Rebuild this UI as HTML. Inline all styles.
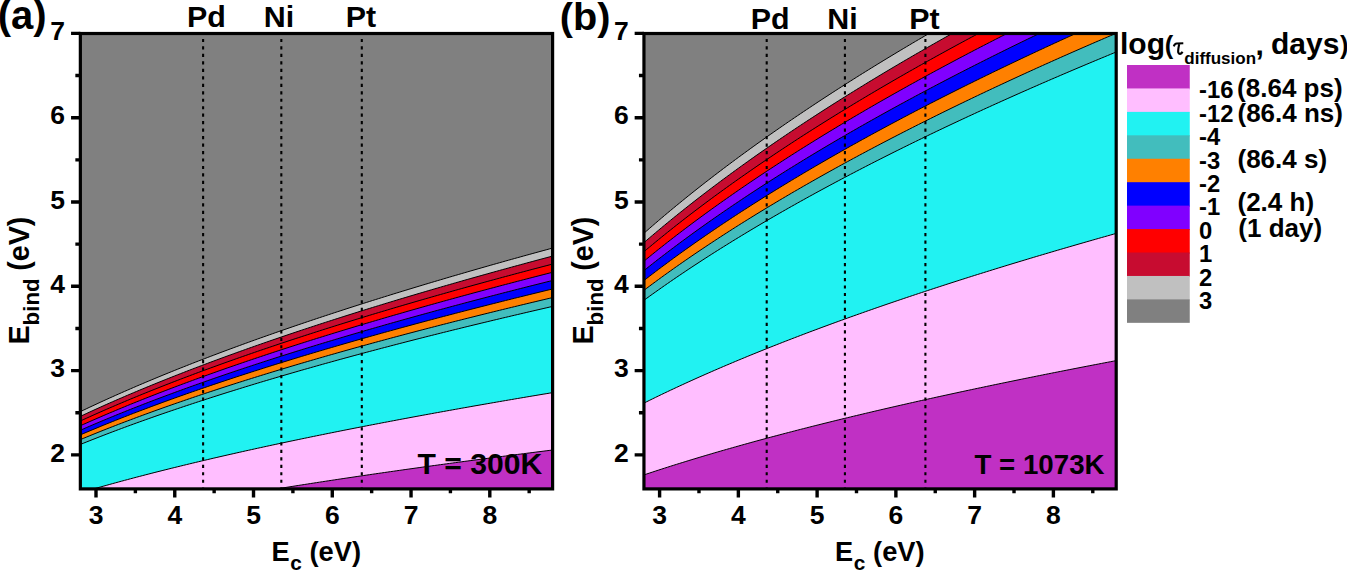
<!DOCTYPE html><html><head><meta charset="utf-8"><style>
html,body{margin:0;padding:0;background:#fff;width:1347px;height:571px;overflow:hidden}
svg{display:block}
text{font-family:"Liberation Sans",sans-serif;font-weight:bold;fill:#000}
.tk{font-size:26.5px}
.pl{font-size:40px}
.el{font-size:31px}
.ax{font-size:29px}
.sb{font-size:21.5px}
.tt{font-size:30px}
.lv{font-size:24px}
.lp{font-size:26px}
</style></head><body>
<svg width="1347" height="571" viewBox="0 0 1347 571">
<clipPath id="ca"><rect x="80.35" y="33.5" width="472.25" height="455.4"/></clipPath>
<g clip-path="url(#ca)">
<rect x="80.35" y="33.5" width="472.25" height="455.4" fill="#808080"/>
<polygon fill="#c0c0c0" points="80.25,411.7 83.2,410.28 86.16,408.88 89.11,407.48 92.06,406.1 95.02,404.72 97.97,403.35 100.92,401.99 103.88,400.64 106.83,399.3 109.78,397.96 112.74,396.63 115.69,395.31 118.64,394 121.6,392.7 124.55,391.4 127.5,390.11 130.46,388.82 133.41,387.55 136.36,386.28 139.32,385.01 142.27,383.76 145.22,382.51 148.18,381.27 151.13,380.03 154.09,378.8 157.04,377.57 159.99,376.36 162.95,375.14 165.9,373.94 168.85,372.74 171.81,371.54 174.76,370.35 177.71,369.17 180.67,367.99 183.62,366.82 186.57,365.65 189.53,364.49 192.48,363.33 195.43,362.18 198.39,361.03 201.34,359.89 204.3,358.75 207.25,357.62 210.2,356.49 213.16,355.37 216.11,354.25 219.06,353.14 222.02,352.03 224.97,350.92 227.92,349.82 230.88,348.73 233.83,347.64 236.78,346.55 239.74,345.47 242.69,344.39 245.64,343.32 248.6,342.25 251.55,341.18 254.5,340.12 257.46,339.06 260.41,338 263.37,336.95 266.32,335.91 269.27,334.86 272.23,333.83 275.18,332.79 278.13,331.76 281.09,330.73 284.04,329.71 286.99,328.69 289.95,327.67 292.9,326.65 295.85,325.64 298.81,324.64 301.76,323.63 304.71,322.63 307.67,321.64 310.62,320.64 313.57,319.65 316.53,318.67 319.48,317.68 322.44,316.7 325.39,315.72 328.34,314.75 331.3,313.78 334.25,312.81 337.2,311.84 340.16,310.88 343.11,309.92 346.06,308.96 349.02,308.01 351.97,307.06 354.92,306.11 357.88,305.17 360.83,304.22 363.78,303.28 366.74,302.35 369.69,301.41 372.64,300.48 375.6,299.55 378.55,298.63 381.5,297.7 384.46,296.78 387.41,295.86 390.37,294.95 393.32,294.03 396.27,293.12 399.23,292.22 402.18,291.31 405.13,290.41 408.09,289.51 411.04,288.61 413.99,287.71 416.95,286.82 419.9,285.93 422.85,285.04 425.81,284.15 428.76,283.27 431.71,282.39 434.67,281.51 437.62,280.63 440.58,279.75 443.53,278.88 446.48,278.01 449.44,277.14 452.39,276.27 455.34,275.41 458.3,274.55 461.25,273.69 464.2,272.83 467.16,271.97 470.11,271.12 473.06,270.27 476.02,269.42 478.97,268.57 481.92,267.73 484.88,266.88 487.83,266.04 490.78,265.2 493.74,264.36 496.69,263.53 499.65,262.69 502.6,261.86 505.55,261.03 508.51,260.2 511.46,259.38 514.41,258.55 517.37,257.73 520.32,256.91 523.27,256.09 526.23,255.27 529.18,254.46 532.13,253.65 535.09,252.83 538.04,252.02 540.99,251.22 543.95,250.41 546.9,249.61 549.85,248.8 552.81,248 554.6,493.9 78.35,493.9"/>
<polygon fill="#c70c30" points="80.25,416.42 83.2,415.04 86.16,413.66 89.11,412.29 92.06,410.94 95.02,409.59 97.97,408.25 100.92,406.91 103.88,405.59 106.83,404.27 109.78,402.96 112.74,401.66 115.69,400.37 118.64,399.08 121.6,397.81 124.55,396.53 127.5,395.27 130.46,394.01 133.41,392.76 136.36,391.52 139.32,390.28 142.27,389.05 145.22,387.83 148.18,386.61 151.13,385.4 154.09,384.19 157.04,382.99 159.99,381.8 162.95,380.61 165.9,379.43 168.85,378.25 171.81,377.08 174.76,375.91 177.71,374.75 180.67,373.6 183.62,372.45 186.57,371.31 189.53,370.17 192.48,369.03 195.43,367.9 198.39,366.78 201.34,365.66 204.3,364.55 207.25,363.44 210.2,362.33 213.16,361.23 216.11,360.14 219.06,359.05 222.02,357.96 224.97,356.88 227.92,355.8 230.88,354.73 233.83,353.66 236.78,352.59 239.74,351.53 242.69,350.48 245.64,349.42 248.6,348.37 251.55,347.33 254.5,346.29 257.46,345.25 260.41,344.22 263.37,343.19 266.32,342.16 269.27,341.14 272.23,340.12 275.18,339.11 278.13,338.1 281.09,337.09 284.04,336.09 286.99,335.09 289.95,334.09 292.9,333.1 295.85,332.11 298.81,331.12 301.76,330.14 304.71,329.16 307.67,328.18 310.62,327.21 313.57,326.24 316.53,325.27 319.48,324.3 322.44,323.34 325.39,322.39 328.34,321.43 331.3,320.48 334.25,319.53 337.2,318.58 340.16,317.64 343.11,316.7 346.06,315.76 349.02,314.83 351.97,313.9 354.92,312.97 357.88,312.04 360.83,311.12 363.78,310.2 366.74,309.28 369.69,308.36 372.64,307.45 375.6,306.54 378.55,305.63 381.5,304.73 384.46,303.82 387.41,302.92 390.37,302.03 393.32,301.13 396.27,300.24 399.23,299.35 402.18,298.46 405.13,297.58 408.09,296.69 411.04,295.81 413.99,294.94 416.95,294.06 419.9,293.19 422.85,292.32 425.81,291.45 428.76,290.58 431.71,289.72 434.67,288.85 437.62,287.99 440.58,287.14 443.53,286.28 446.48,285.43 449.44,284.58 452.39,283.73 455.34,282.88 458.3,282.04 461.25,281.19 464.2,280.35 467.16,279.51 470.11,278.68 473.06,277.84 476.02,277.01 478.97,276.18 481.92,275.35 484.88,274.52 487.83,273.7 490.78,272.87 493.74,272.05 496.69,271.24 499.65,270.42 502.6,269.6 505.55,268.79 508.51,267.98 511.46,267.17 514.41,266.36 517.37,265.55 520.32,264.75 523.27,263.95 526.23,263.15 529.18,262.35 532.13,261.55 535.09,260.76 538.04,259.96 540.99,259.17 543.95,258.38 546.9,257.59 549.85,256.8 552.81,256.02 554.6,493.9 78.35,493.9"/>
<polygon fill="#ff0000" points="80.25,421.06 83.2,419.7 86.16,418.35 89.11,417.02 92.06,415.69 95.02,414.37 97.97,413.05 100.92,411.75 103.88,410.45 106.83,409.16 109.78,407.88 112.74,406.61 115.69,405.34 118.64,404.08 121.6,402.83 124.55,401.59 127.5,400.35 130.46,399.12 133.41,397.89 136.36,396.68 139.32,395.47 142.27,394.26 145.22,393.06 148.18,391.87 151.13,390.68 154.09,389.5 157.04,388.33 159.99,387.16 162.95,386 165.9,384.84 168.85,383.69 171.81,382.54 174.76,381.4 177.71,380.27 180.67,379.13 183.62,378.01 186.57,376.89 189.53,375.77 192.48,374.66 195.43,373.56 198.39,372.46 201.34,371.36 204.3,370.27 207.25,369.19 210.2,368.11 213.16,367.03 216.11,365.96 219.06,364.89 222.02,363.82 224.97,362.76 227.92,361.71 230.88,360.66 233.83,359.61 236.78,358.57 239.74,357.53 242.69,356.5 245.64,355.47 248.6,354.44 251.55,353.42 254.5,352.4 257.46,351.38 260.41,350.37 263.37,349.36 266.32,348.36 269.27,347.36 272.23,346.36 275.18,345.37 278.13,344.38 281.09,343.39 284.04,342.41 286.99,341.43 289.95,340.45 292.9,339.48 295.85,338.51 298.81,337.55 301.76,336.58 304.71,335.62 307.67,334.67 310.62,333.71 313.57,332.76 316.53,331.82 319.48,330.87 322.44,329.93 325.39,328.99 328.34,328.06 331.3,327.13 334.25,326.2 337.2,325.27 340.16,324.35 343.11,323.43 346.06,322.51 349.02,321.59 351.97,320.68 354.92,319.77 357.88,318.86 360.83,317.96 363.78,317.06 366.74,316.16 369.69,315.26 372.64,314.37 375.6,313.48 378.55,312.59 381.5,311.7 384.46,310.82 387.41,309.94 390.37,309.06 393.32,308.18 396.27,307.31 399.23,306.44 402.18,305.57 405.13,304.7 408.09,303.84 411.04,302.98 413.99,302.12 416.95,301.26 419.9,300.4 422.85,299.55 425.81,298.7 428.76,297.85 431.71,297.01 434.67,296.16 437.62,295.32 440.58,294.48 443.53,293.64 446.48,292.81 449.44,291.97 452.39,291.14 455.34,290.31 458.3,289.48 461.25,288.66 464.2,287.84 467.16,287.01 470.11,286.19 473.06,285.38 476.02,284.56 478.97,283.75 481.92,282.94 484.88,282.13 487.83,281.32 490.78,280.51 493.74,279.71 496.69,278.91 499.65,278.11 502.6,277.31 505.55,276.51 508.51,275.72 511.46,274.93 514.41,274.13 517.37,273.35 520.32,272.56 523.27,271.77 526.23,270.99 529.18,270.21 532.13,269.42 535.09,268.65 538.04,267.87 540.99,267.09 543.95,266.32 546.9,265.55 549.85,264.78 552.81,264.01 554.6,493.9 78.35,493.9"/>
<polygon fill="#8000ff" points="80.25,425.79 83.2,424.46 86.16,423.15 89.11,421.84 92.06,420.54 95.02,419.25 97.97,417.97 100.92,416.69 103.88,415.42 106.83,414.16 109.78,412.91 112.74,411.66 115.69,410.43 118.64,409.2 121.6,407.97 124.55,406.75 127.5,405.54 130.46,404.34 133.41,403.14 136.36,401.95 139.32,400.77 142.27,399.59 145.22,398.42 148.18,397.25 151.13,396.09 154.09,394.94 157.04,393.79 159.99,392.65 162.95,391.51 165.9,390.38 168.85,389.25 171.81,388.13 174.76,387.02 177.71,385.91 180.67,384.8 183.62,383.7 186.57,382.61 189.53,381.52 192.48,380.43 195.43,379.35 198.39,378.27 201.34,377.2 204.3,376.14 207.25,375.07 210.2,374.02 213.16,372.96 216.11,371.92 219.06,370.87 222.02,369.83 224.97,368.79 227.92,367.76 230.88,366.74 233.83,365.71 236.78,364.69 239.74,363.68 242.69,362.67 245.64,361.66 248.6,360.65 251.55,359.65 254.5,358.66 257.46,357.66 260.41,356.68 263.37,355.69 266.32,354.71 269.27,353.73 272.23,352.76 275.18,351.78 278.13,350.82 281.09,349.85 284.04,348.89 286.99,347.93 289.95,346.98 292.9,346.03 295.85,345.08 298.81,344.14 301.76,343.19 304.71,342.26 307.67,341.32 310.62,340.39 313.57,339.46 316.53,338.53 319.48,337.61 322.44,336.69 325.39,335.77 328.34,334.86 331.3,333.95 334.25,333.04 337.2,332.13 340.16,331.23 343.11,330.33 346.06,329.43 349.02,328.54 351.97,327.64 354.92,326.75 357.88,325.87 360.83,324.98 363.78,324.1 366.74,323.22 369.69,322.35 372.64,321.47 375.6,320.6 378.55,319.73 381.5,318.87 384.46,318 387.41,317.14 390.37,316.28 393.32,315.42 396.27,314.57 399.23,313.72 402.18,312.87 405.13,312.02 408.09,311.17 411.04,310.33 413.99,309.49 416.95,308.65 419.9,307.81 422.85,306.98 425.81,306.15 428.76,305.32 431.71,304.49 434.67,303.67 437.62,302.84 440.58,302.02 443.53,301.2 446.48,300.38 449.44,299.57 452.39,298.76 455.34,297.95 458.3,297.14 461.25,296.33 464.2,295.52 467.16,294.72 470.11,293.92 473.06,293.12 476.02,292.32 478.97,291.53 481.92,290.73 484.88,289.94 487.83,289.15 490.78,288.36 493.74,287.58 496.69,286.79 499.65,286.01 502.6,285.23 505.55,284.45 508.51,283.67 511.46,282.9 514.41,282.13 517.37,281.35 520.32,280.58 523.27,279.81 526.23,279.05 529.18,278.28 532.13,277.52 535.09,276.76 538.04,276 540.99,275.24 543.95,274.48 546.9,273.73 549.85,272.97 552.81,272.22 554.6,493.9 78.35,493.9"/>
<polygon fill="#0000ff" points="80.25,430.3 83.2,429.01 86.16,427.73 89.11,426.45 92.06,425.18 95.02,423.92 97.97,422.67 100.92,421.42 103.88,420.19 106.83,418.96 109.78,417.73 112.74,416.52 115.69,415.31 118.64,414.11 121.6,412.91 124.55,411.73 127.5,410.54 130.46,409.37 133.41,408.2 136.36,407.04 139.32,405.88 142.27,404.73 145.22,403.59 148.18,402.45 151.13,401.32 154.09,400.19 157.04,399.07 159.99,397.96 162.95,396.85 165.9,395.74 168.85,394.64 171.81,393.55 174.76,392.46 177.71,391.38 180.67,390.3 183.62,389.22 186.57,388.16 189.53,387.09 192.48,386.03 195.43,384.98 198.39,383.93 201.34,382.88 204.3,381.84 207.25,380.8 210.2,379.77 213.16,378.74 216.11,377.72 219.06,376.7 222.02,375.69 224.97,374.68 227.92,373.67 230.88,372.67 233.83,371.67 236.78,370.67 239.74,369.68 242.69,368.69 245.64,367.71 248.6,366.73 251.55,365.75 254.5,364.78 257.46,363.81 260.41,362.85 263.37,361.89 266.32,360.93 269.27,359.97 272.23,359.02 275.18,358.07 278.13,357.13 281.09,356.19 284.04,355.25 286.99,354.32 289.95,353.38 292.9,352.46 295.85,351.53 298.81,350.61 301.76,349.69 304.71,348.77 307.67,347.86 310.62,346.95 313.57,346.05 316.53,345.14 319.48,344.24 322.44,343.34 325.39,342.45 328.34,341.55 331.3,340.66 334.25,339.78 337.2,338.89 340.16,338.01 343.11,337.13 346.06,336.26 349.02,335.38 351.97,334.51 354.92,333.65 357.88,332.78 360.83,331.92 363.78,331.06 366.74,330.2 369.69,329.34 372.64,328.49 375.6,327.64 378.55,326.79 381.5,325.95 384.46,325.1 387.41,324.26 390.37,323.42 393.32,322.59 396.27,321.75 399.23,320.92 402.18,320.09 405.13,319.26 408.09,318.44 411.04,317.62 413.99,316.8 416.95,315.98 419.9,315.16 422.85,314.35 425.81,313.54 428.76,312.73 431.71,311.92 434.67,311.11 437.62,310.31 440.58,309.51 443.53,308.71 446.48,307.91 449.44,307.11 452.39,306.32 455.34,305.53 458.3,304.74 461.25,303.95 464.2,303.17 467.16,302.38 470.11,301.6 473.06,300.82 476.02,300.04 478.97,299.27 481.92,298.49 484.88,297.72 487.83,296.95 490.78,296.18 493.74,295.41 496.69,294.65 499.65,293.88 502.6,293.12 505.55,292.36 508.51,291.6 511.46,290.85 514.41,290.09 517.37,289.34 520.32,288.59 523.27,287.84 526.23,287.09 529.18,286.34 532.13,285.6 535.09,284.85 538.04,284.11 540.99,283.37 543.95,282.63 546.9,281.89 549.85,281.16 552.81,280.43 554.6,493.9 78.35,493.9"/>
<polygon fill="#ff8000" points="80.25,434.91 83.2,433.65 86.16,432.4 89.11,431.15 92.06,429.92 95.02,428.69 97.97,427.47 100.92,426.25 103.88,425.05 106.83,423.85 109.78,422.66 112.74,421.48 115.69,420.3 118.64,419.13 121.6,417.96 124.55,416.81 127.5,415.66 130.46,414.51 133.41,413.37 136.36,412.24 139.32,411.11 142.27,409.99 145.22,408.88 148.18,407.77 151.13,406.67 154.09,405.57 157.04,404.48 159.99,403.39 162.95,402.31 165.9,401.23 168.85,400.16 171.81,399.1 174.76,398.04 177.71,396.98 180.67,395.93 183.62,394.88 186.57,393.84 189.53,392.81 192.48,391.77 195.43,390.75 198.39,389.72 201.34,388.71 204.3,387.69 207.25,386.68 210.2,385.68 213.16,384.67 216.11,383.68 219.06,382.68 222.02,381.7 224.97,380.71 227.92,379.73 230.88,378.75 233.83,377.78 236.78,376.81 239.74,375.84 242.69,374.88 245.64,373.92 248.6,372.97 251.55,372.02 254.5,371.07 257.46,370.13 260.41,369.19 263.37,368.25 266.32,367.32 269.27,366.39 272.23,365.46 275.18,364.54 278.13,363.62 281.09,362.7 284.04,361.79 286.99,360.88 289.95,359.97 292.9,359.07 295.85,358.16 298.81,357.27 301.76,356.37 304.71,355.48 307.67,354.59 310.62,353.7 313.57,352.82 316.53,351.94 319.48,351.06 322.44,350.19 325.39,349.32 328.34,348.45 331.3,347.58 334.25,346.72 337.2,345.85 340.16,345 343.11,344.14 346.06,343.29 349.02,342.44 351.97,341.59 354.92,340.74 357.88,339.9 360.83,339.06 363.78,338.22 366.74,337.39 369.69,336.55 372.64,335.72 375.6,334.89 378.55,334.07 381.5,333.24 384.46,332.42 387.41,331.6 390.37,330.79 393.32,329.97 396.27,329.16 399.23,328.35 402.18,327.54 405.13,326.74 408.09,325.93 411.04,325.13 413.99,324.33 416.95,323.53 419.9,322.74 422.85,321.95 425.81,321.16 428.76,320.37 431.71,319.58 434.67,318.8 437.62,318.01 440.58,317.23 443.53,316.45 446.48,315.68 449.44,314.9 452.39,314.13 455.34,313.36 458.3,312.59 461.25,311.82 464.2,311.06 467.16,310.29 470.11,309.53 473.06,308.77 476.02,308.01 478.97,307.26 481.92,306.5 484.88,305.75 487.83,305 490.78,304.25 493.74,303.5 496.69,302.76 499.65,302.02 502.6,301.27 505.55,300.53 508.51,299.79 511.46,299.06 514.41,298.32 517.37,297.59 520.32,296.86 523.27,296.13 526.23,295.4 529.18,294.67 532.13,293.95 535.09,293.22 538.04,292.5 540.99,291.78 543.95,291.06 546.9,290.34 549.85,289.62 552.81,288.91 554.6,493.9 78.35,493.9"/>
<polygon fill="#42bdbd" points="80.25,439.66 83.2,438.43 86.16,437.21 89.11,436 92.06,434.8 95.02,433.6 97.97,432.41 100.92,431.23 103.88,430.06 106.83,428.89 109.78,427.73 112.74,426.58 115.69,425.43 118.64,424.29 121.6,423.16 124.55,422.03 127.5,420.91 130.46,419.8 133.41,418.69 136.36,417.59 139.32,416.49 142.27,415.4 145.22,414.31 148.18,413.24 151.13,412.16 154.09,411.09 157.04,410.03 159.99,408.97 162.95,407.92 165.9,406.87 168.85,405.83 171.81,404.79 174.76,403.76 177.71,402.73 180.67,401.71 183.62,400.69 186.57,399.68 189.53,398.67 192.48,397.66 195.43,396.66 198.39,395.67 201.34,394.67 204.3,393.69 207.25,392.7 210.2,391.72 213.16,390.75 216.11,389.78 219.06,388.81 222.02,387.85 224.97,386.89 227.92,385.94 230.88,384.98 233.83,384.04 236.78,383.09 239.74,382.15 242.69,381.22 245.64,380.28 248.6,379.36 251.55,378.43 254.5,377.51 257.46,376.59 260.41,375.67 263.37,374.76 266.32,373.85 269.27,372.95 272.23,372.04 275.18,371.15 278.13,370.25 281.09,369.36 284.04,368.47 286.99,367.58 289.95,366.7 292.9,365.82 295.85,364.94 298.81,364.07 301.76,363.2 304.71,362.33 307.67,361.46 310.62,360.6 313.57,359.74 316.53,358.88 319.48,358.03 322.44,357.18 325.39,356.33 328.34,355.48 331.3,354.64 334.25,353.8 337.2,352.96 340.16,352.12 343.11,351.29 346.06,350.46 349.02,349.63 351.97,348.8 354.92,347.98 357.88,347.16 360.83,346.34 363.78,345.53 366.74,344.71 369.69,343.9 372.64,343.09 375.6,342.29 378.55,341.48 381.5,340.68 384.46,339.88 387.41,339.08 390.37,338.29 393.32,337.49 396.27,336.7 399.23,335.91 402.18,335.13 405.13,334.34 408.09,333.56 411.04,332.78 413.99,332 416.95,331.23 419.9,330.45 422.85,329.68 425.81,328.91 428.76,328.14 431.71,327.38 434.67,326.61 437.62,325.85 440.58,325.09 443.53,324.33 446.48,323.58 449.44,322.82 452.39,322.07 455.34,321.32 458.3,320.57 461.25,319.83 464.2,319.08 467.16,318.34 470.11,317.6 473.06,316.86 476.02,316.12 478.97,315.38 481.92,314.65 484.88,313.92 487.83,313.19 490.78,312.46 493.74,311.73 496.69,311 499.65,310.28 502.6,309.56 505.55,308.84 508.51,308.12 511.46,307.4 514.41,306.68 517.37,305.97 520.32,305.26 523.27,304.55 526.23,303.84 529.18,303.13 532.13,302.42 535.09,301.72 538.04,301.01 540.99,300.31 543.95,299.61 546.9,298.91 549.85,298.22 552.81,297.52 554.6,493.9 78.35,493.9"/>
<polygon fill="#21f2f2" points="80.25,444.49 83.2,443.3 86.16,442.12 89.11,440.94 92.06,439.77 95.02,438.61 97.97,437.45 100.92,436.31 103.88,435.16 106.83,434.03 109.78,432.9 112.74,431.78 115.69,430.67 118.64,429.56 121.6,428.46 124.55,427.37 127.5,426.28 130.46,425.19 133.41,424.12 136.36,423.04 139.32,421.98 142.27,420.92 145.22,419.86 148.18,418.82 151.13,417.77 154.09,416.73 157.04,415.7 159.99,414.67 162.95,413.65 165.9,412.63 168.85,411.62 171.81,410.61 174.76,409.61 177.71,408.61 180.67,407.61 183.62,406.62 186.57,405.64 189.53,404.66 192.48,403.68 195.43,402.71 198.39,401.74 201.34,400.78 204.3,399.82 207.25,398.86 210.2,397.91 213.16,396.96 216.11,396.02 219.06,395.08 222.02,394.14 224.97,393.21 227.92,392.28 230.88,391.36 233.83,390.44 236.78,389.52 239.74,388.61 242.69,387.7 245.64,386.79 248.6,385.89 251.55,384.99 254.5,384.09 257.46,383.2 260.41,382.31 263.37,381.42 266.32,380.54 269.27,379.66 272.23,378.78 275.18,377.91 278.13,377.04 281.09,376.17 284.04,375.31 286.99,374.45 289.95,373.59 292.9,372.73 295.85,371.88 298.81,371.03 301.76,370.18 304.71,369.34 307.67,368.5 310.62,367.66 313.57,366.82 316.53,365.99 319.48,365.16 322.44,364.33 325.39,363.51 328.34,362.69 331.3,361.87 334.25,361.05 337.2,360.23 340.16,359.42 343.11,358.61 346.06,357.81 349.02,357 351.97,356.2 354.92,355.4 357.88,354.6 360.83,353.81 363.78,353.01 366.74,352.22 369.69,351.43 372.64,350.65 375.6,349.86 378.55,349.08 381.5,348.3 384.46,347.53 387.41,346.75 390.37,345.98 393.32,345.21 396.27,344.44 399.23,343.67 402.18,342.91 405.13,342.15 408.09,341.39 411.04,340.63 413.99,339.87 416.95,339.12 419.9,338.37 422.85,337.62 425.81,336.87 428.76,336.12 431.71,335.38 434.67,334.64 437.62,333.9 440.58,333.16 443.53,332.42 446.48,331.69 449.44,330.95 452.39,330.22 455.34,329.49 458.3,328.77 461.25,328.04 464.2,327.32 467.16,326.59 470.11,325.87 473.06,325.15 476.02,324.44 478.97,323.72 481.92,323.01 484.88,322.3 487.83,321.59 490.78,320.88 493.74,320.17 496.69,319.47 499.65,318.76 502.6,318.06 505.55,317.36 508.51,316.66 511.46,315.96 514.41,315.27 517.37,314.58 520.32,313.88 523.27,313.19 526.23,312.5 529.18,311.81 532.13,311.13 535.09,310.44 538.04,309.76 540.99,309.08 543.95,308.4 546.9,307.72 549.85,307.04 552.81,306.37 554.6,493.9 78.35,493.9"/>
<polygon fill="#ffbeff" points="80.25,492.82 83.2,491.96 86.16,491.09 89.11,490.24 92.06,489.39 95.02,488.54 97.97,487.7 100.92,486.87 103.88,486.04 106.83,485.22 109.78,484.4 112.74,483.58 115.69,482.77 118.64,481.97 121.6,481.17 124.55,480.37 127.5,479.58 130.46,478.79 133.41,478.01 136.36,477.23 139.32,476.46 142.27,475.69 145.22,474.92 148.18,474.16 151.13,473.4 154.09,472.64 157.04,471.89 159.99,471.15 162.95,470.4 165.9,469.66 168.85,468.93 171.81,468.2 174.76,467.47 177.71,466.74 180.67,466.02 183.62,465.3 186.57,464.58 189.53,463.87 192.48,463.16 195.43,462.46 198.39,461.75 201.34,461.05 204.3,460.36 207.25,459.66 210.2,458.97 213.16,458.28 216.11,457.6 219.06,456.92 222.02,456.24 224.97,455.56 227.92,454.89 230.88,454.22 233.83,453.55 236.78,452.88 239.74,452.22 242.69,451.56 245.64,450.9 248.6,450.25 251.55,449.59 254.5,448.94 257.46,448.29 260.41,447.65 263.37,447.01 266.32,446.36 269.27,445.73 272.23,445.09 275.18,444.46 278.13,443.82 281.09,443.19 284.04,442.57 286.99,441.94 289.95,441.32 292.9,440.7 295.85,440.08 298.81,439.46 301.76,438.85 304.71,438.24 307.67,437.63 310.62,437.02 313.57,436.41 316.53,435.81 319.48,435.21 322.44,434.61 325.39,434.01 328.34,433.41 331.3,432.82 334.25,432.22 337.2,431.63 340.16,431.04 343.11,430.46 346.06,429.87 349.02,429.29 351.97,428.71 354.92,428.13 357.88,427.55 360.83,426.97 363.78,426.4 366.74,425.82 369.69,425.25 372.64,424.68 375.6,424.11 378.55,423.55 381.5,422.98 384.46,422.42 387.41,421.86 390.37,421.3 393.32,420.74 396.27,420.18 399.23,419.62 402.18,419.07 405.13,418.52 408.09,417.97 411.04,417.42 413.99,416.87 416.95,416.32 419.9,415.78 422.85,415.23 425.81,414.69 428.76,414.15 431.71,413.61 434.67,413.07 437.62,412.54 440.58,412 443.53,411.47 446.48,410.94 449.44,410.41 452.39,409.88 455.34,409.35 458.3,408.82 461.25,408.29 464.2,407.77 467.16,407.25 470.11,406.72 473.06,406.2 476.02,405.68 478.97,405.17 481.92,404.65 484.88,404.13 487.83,403.62 490.78,403.11 493.74,402.59 496.69,402.08 499.65,401.57 502.6,401.07 505.55,400.56 508.51,400.05 511.46,399.55 514.41,399.04 517.37,398.54 520.32,398.04 523.27,397.54 526.23,397.04 529.18,396.54 532.13,396.04 535.09,395.55 538.04,395.05 540.99,394.56 543.95,394.07 546.9,393.58 549.85,393.09 552.81,392.6 554.6,493.9 78.35,493.9"/>
<polygon fill="#c030c4" points="80.25,493.9 83.2,493.9 86.16,493.9 89.11,493.9 92.06,493.9 95.02,493.9 97.97,493.9 100.92,493.9 103.88,493.9 106.83,493.9 109.78,493.9 112.74,493.9 115.69,493.9 118.64,493.9 121.6,493.9 124.55,493.9 127.5,493.9 130.46,493.9 133.41,493.9 136.36,493.9 139.32,493.9 142.27,493.9 145.22,493.9 148.18,493.9 151.13,493.9 154.09,493.9 157.04,493.9 159.99,493.9 162.95,493.9 165.9,493.9 168.85,493.9 171.81,493.9 174.76,493.9 177.71,493.9 180.67,493.9 183.62,493.9 186.57,493.9 189.53,493.9 192.48,493.9 195.43,493.9 198.39,493.9 201.34,493.9 204.3,493.9 207.25,493.9 210.2,493.9 213.16,493.9 216.11,493.9 219.06,493.9 222.02,493.9 224.97,493.9 227.92,493.9 230.88,493.9 233.83,493.9 236.78,493.9 239.74,493.9 242.69,493.9 245.64,493.9 248.6,493.52 251.55,493.03 254.5,492.54 257.46,492.05 260.41,491.56 263.37,491.08 266.32,490.59 269.27,490.11 272.23,489.63 275.18,489.15 278.13,488.68 281.09,488.2 284.04,487.73 286.99,487.26 289.95,486.79 292.9,486.32 295.85,485.85 298.81,485.39 301.76,484.92 304.71,484.46 307.67,484 310.62,483.54 313.57,483.08 316.53,482.63 319.48,482.17 322.44,481.72 325.39,481.27 328.34,480.82 331.3,480.37 334.25,479.92 337.2,479.48 340.16,479.03 343.11,478.59 346.06,478.15 349.02,477.71 351.97,477.27 354.92,476.83 357.88,476.39 360.83,475.96 363.78,475.52 366.74,475.09 369.69,474.66 372.64,474.23 375.6,473.8 378.55,473.37 381.5,472.94 384.46,472.52 387.41,472.1 390.37,471.67 393.32,471.25 396.27,470.83 399.23,470.41 402.18,469.99 405.13,469.57 408.09,469.16 411.04,468.74 413.99,468.33 416.95,467.92 419.9,467.5 422.85,467.09 425.81,466.68 428.76,466.28 431.71,465.87 434.67,465.46 437.62,465.06 440.58,464.65 443.53,464.25 446.48,463.85 449.44,463.45 452.39,463.05 455.34,462.65 458.3,462.25 461.25,461.85 464.2,461.45 467.16,461.06 470.11,460.67 473.06,460.27 476.02,459.88 478.97,459.49 481.92,459.1 484.88,458.71 487.83,458.32 490.78,457.93 493.74,457.54 496.69,457.16 499.65,456.77 502.6,456.39 505.55,456.01 508.51,455.62 511.46,455.24 514.41,454.86 517.37,454.48 520.32,454.1 523.27,453.72 526.23,453.35 529.18,452.97 532.13,452.59 535.09,452.22 538.04,451.84 540.99,451.47 543.95,451.1 546.9,450.73 549.85,450.36 552.81,449.99 554.6,493.9 78.35,493.9"/>
<g fill="none" stroke="#000" stroke-width="1"><polyline points="80.25,411.7 83.2,410.28 86.16,408.88 89.11,407.48 92.06,406.1 95.02,404.72 97.97,403.35 100.92,401.99 103.88,400.64 106.83,399.3 109.78,397.96 112.74,396.63 115.69,395.31 118.64,394 121.6,392.7 124.55,391.4 127.5,390.11 130.46,388.82 133.41,387.55 136.36,386.28 139.32,385.01 142.27,383.76 145.22,382.51 148.18,381.27 151.13,380.03 154.09,378.8 157.04,377.57 159.99,376.36 162.95,375.14 165.9,373.94 168.85,372.74 171.81,371.54 174.76,370.35 177.71,369.17 180.67,367.99 183.62,366.82 186.57,365.65 189.53,364.49 192.48,363.33 195.43,362.18 198.39,361.03 201.34,359.89 204.3,358.75 207.25,357.62 210.2,356.49 213.16,355.37 216.11,354.25 219.06,353.14 222.02,352.03 224.97,350.92 227.92,349.82 230.88,348.73 233.83,347.64 236.78,346.55 239.74,345.47 242.69,344.39 245.64,343.32 248.6,342.25 251.55,341.18 254.5,340.12 257.46,339.06 260.41,338 263.37,336.95 266.32,335.91 269.27,334.86 272.23,333.83 275.18,332.79 278.13,331.76 281.09,330.73 284.04,329.71 286.99,328.69 289.95,327.67 292.9,326.65 295.85,325.64 298.81,324.64 301.76,323.63 304.71,322.63 307.67,321.64 310.62,320.64 313.57,319.65 316.53,318.67 319.48,317.68 322.44,316.7 325.39,315.72 328.34,314.75 331.3,313.78 334.25,312.81 337.2,311.84 340.16,310.88 343.11,309.92 346.06,308.96 349.02,308.01 351.97,307.06 354.92,306.11 357.88,305.17 360.83,304.22 363.78,303.28 366.74,302.35 369.69,301.41 372.64,300.48 375.6,299.55 378.55,298.63 381.5,297.7 384.46,296.78 387.41,295.86 390.37,294.95 393.32,294.03 396.27,293.12 399.23,292.22 402.18,291.31 405.13,290.41 408.09,289.51 411.04,288.61 413.99,287.71 416.95,286.82 419.9,285.93 422.85,285.04 425.81,284.15 428.76,283.27 431.71,282.39 434.67,281.51 437.62,280.63 440.58,279.75 443.53,278.88 446.48,278.01 449.44,277.14 452.39,276.27 455.34,275.41 458.3,274.55 461.25,273.69 464.2,272.83 467.16,271.97 470.11,271.12 473.06,270.27 476.02,269.42 478.97,268.57 481.92,267.73 484.88,266.88 487.83,266.04 490.78,265.2 493.74,264.36 496.69,263.53 499.65,262.69 502.6,261.86 505.55,261.03 508.51,260.2 511.46,259.38 514.41,258.55 517.37,257.73 520.32,256.91 523.27,256.09 526.23,255.27 529.18,254.46 532.13,253.65 535.09,252.83 538.04,252.02 540.99,251.22 543.95,250.41 546.9,249.61 549.85,248.8 552.81,248"/><polyline points="80.25,416.42 83.2,415.04 86.16,413.66 89.11,412.29 92.06,410.94 95.02,409.59 97.97,408.25 100.92,406.91 103.88,405.59 106.83,404.27 109.78,402.96 112.74,401.66 115.69,400.37 118.64,399.08 121.6,397.81 124.55,396.53 127.5,395.27 130.46,394.01 133.41,392.76 136.36,391.52 139.32,390.28 142.27,389.05 145.22,387.83 148.18,386.61 151.13,385.4 154.09,384.19 157.04,382.99 159.99,381.8 162.95,380.61 165.9,379.43 168.85,378.25 171.81,377.08 174.76,375.91 177.71,374.75 180.67,373.6 183.62,372.45 186.57,371.31 189.53,370.17 192.48,369.03 195.43,367.9 198.39,366.78 201.34,365.66 204.3,364.55 207.25,363.44 210.2,362.33 213.16,361.23 216.11,360.14 219.06,359.05 222.02,357.96 224.97,356.88 227.92,355.8 230.88,354.73 233.83,353.66 236.78,352.59 239.74,351.53 242.69,350.48 245.64,349.42 248.6,348.37 251.55,347.33 254.5,346.29 257.46,345.25 260.41,344.22 263.37,343.19 266.32,342.16 269.27,341.14 272.23,340.12 275.18,339.11 278.13,338.1 281.09,337.09 284.04,336.09 286.99,335.09 289.95,334.09 292.9,333.1 295.85,332.11 298.81,331.12 301.76,330.14 304.71,329.16 307.67,328.18 310.62,327.21 313.57,326.24 316.53,325.27 319.48,324.3 322.44,323.34 325.39,322.39 328.34,321.43 331.3,320.48 334.25,319.53 337.2,318.58 340.16,317.64 343.11,316.7 346.06,315.76 349.02,314.83 351.97,313.9 354.92,312.97 357.88,312.04 360.83,311.12 363.78,310.2 366.74,309.28 369.69,308.36 372.64,307.45 375.6,306.54 378.55,305.63 381.5,304.73 384.46,303.82 387.41,302.92 390.37,302.03 393.32,301.13 396.27,300.24 399.23,299.35 402.18,298.46 405.13,297.58 408.09,296.69 411.04,295.81 413.99,294.94 416.95,294.06 419.9,293.19 422.85,292.32 425.81,291.45 428.76,290.58 431.71,289.72 434.67,288.85 437.62,287.99 440.58,287.14 443.53,286.28 446.48,285.43 449.44,284.58 452.39,283.73 455.34,282.88 458.3,282.04 461.25,281.19 464.2,280.35 467.16,279.51 470.11,278.68 473.06,277.84 476.02,277.01 478.97,276.18 481.92,275.35 484.88,274.52 487.83,273.7 490.78,272.87 493.74,272.05 496.69,271.24 499.65,270.42 502.6,269.6 505.55,268.79 508.51,267.98 511.46,267.17 514.41,266.36 517.37,265.55 520.32,264.75 523.27,263.95 526.23,263.15 529.18,262.35 532.13,261.55 535.09,260.76 538.04,259.96 540.99,259.17 543.95,258.38 546.9,257.59 549.85,256.8 552.81,256.02"/><polyline points="80.25,421.06 83.2,419.7 86.16,418.35 89.11,417.02 92.06,415.69 95.02,414.37 97.97,413.05 100.92,411.75 103.88,410.45 106.83,409.16 109.78,407.88 112.74,406.61 115.69,405.34 118.64,404.08 121.6,402.83 124.55,401.59 127.5,400.35 130.46,399.12 133.41,397.89 136.36,396.68 139.32,395.47 142.27,394.26 145.22,393.06 148.18,391.87 151.13,390.68 154.09,389.5 157.04,388.33 159.99,387.16 162.95,386 165.9,384.84 168.85,383.69 171.81,382.54 174.76,381.4 177.71,380.27 180.67,379.13 183.62,378.01 186.57,376.89 189.53,375.77 192.48,374.66 195.43,373.56 198.39,372.46 201.34,371.36 204.3,370.27 207.25,369.19 210.2,368.11 213.16,367.03 216.11,365.96 219.06,364.89 222.02,363.82 224.97,362.76 227.92,361.71 230.88,360.66 233.83,359.61 236.78,358.57 239.74,357.53 242.69,356.5 245.64,355.47 248.6,354.44 251.55,353.42 254.5,352.4 257.46,351.38 260.41,350.37 263.37,349.36 266.32,348.36 269.27,347.36 272.23,346.36 275.18,345.37 278.13,344.38 281.09,343.39 284.04,342.41 286.99,341.43 289.95,340.45 292.9,339.48 295.85,338.51 298.81,337.55 301.76,336.58 304.71,335.62 307.67,334.67 310.62,333.71 313.57,332.76 316.53,331.82 319.48,330.87 322.44,329.93 325.39,328.99 328.34,328.06 331.3,327.13 334.25,326.2 337.2,325.27 340.16,324.35 343.11,323.43 346.06,322.51 349.02,321.59 351.97,320.68 354.92,319.77 357.88,318.86 360.83,317.96 363.78,317.06 366.74,316.16 369.69,315.26 372.64,314.37 375.6,313.48 378.55,312.59 381.5,311.7 384.46,310.82 387.41,309.94 390.37,309.06 393.32,308.18 396.27,307.31 399.23,306.44 402.18,305.57 405.13,304.7 408.09,303.84 411.04,302.98 413.99,302.12 416.95,301.26 419.9,300.4 422.85,299.55 425.81,298.7 428.76,297.85 431.71,297.01 434.67,296.16 437.62,295.32 440.58,294.48 443.53,293.64 446.48,292.81 449.44,291.97 452.39,291.14 455.34,290.31 458.3,289.48 461.25,288.66 464.2,287.84 467.16,287.01 470.11,286.19 473.06,285.38 476.02,284.56 478.97,283.75 481.92,282.94 484.88,282.13 487.83,281.32 490.78,280.51 493.74,279.71 496.69,278.91 499.65,278.11 502.6,277.31 505.55,276.51 508.51,275.72 511.46,274.93 514.41,274.13 517.37,273.35 520.32,272.56 523.27,271.77 526.23,270.99 529.18,270.21 532.13,269.42 535.09,268.65 538.04,267.87 540.99,267.09 543.95,266.32 546.9,265.55 549.85,264.78 552.81,264.01"/><polyline points="80.25,425.79 83.2,424.46 86.16,423.15 89.11,421.84 92.06,420.54 95.02,419.25 97.97,417.97 100.92,416.69 103.88,415.42 106.83,414.16 109.78,412.91 112.74,411.66 115.69,410.43 118.64,409.2 121.6,407.97 124.55,406.75 127.5,405.54 130.46,404.34 133.41,403.14 136.36,401.95 139.32,400.77 142.27,399.59 145.22,398.42 148.18,397.25 151.13,396.09 154.09,394.94 157.04,393.79 159.99,392.65 162.95,391.51 165.9,390.38 168.85,389.25 171.81,388.13 174.76,387.02 177.71,385.91 180.67,384.8 183.62,383.7 186.57,382.61 189.53,381.52 192.48,380.43 195.43,379.35 198.39,378.27 201.34,377.2 204.3,376.14 207.25,375.07 210.2,374.02 213.16,372.96 216.11,371.92 219.06,370.87 222.02,369.83 224.97,368.79 227.92,367.76 230.88,366.74 233.83,365.71 236.78,364.69 239.74,363.68 242.69,362.67 245.64,361.66 248.6,360.65 251.55,359.65 254.5,358.66 257.46,357.66 260.41,356.68 263.37,355.69 266.32,354.71 269.27,353.73 272.23,352.76 275.18,351.78 278.13,350.82 281.09,349.85 284.04,348.89 286.99,347.93 289.95,346.98 292.9,346.03 295.85,345.08 298.81,344.14 301.76,343.19 304.71,342.26 307.67,341.32 310.62,340.39 313.57,339.46 316.53,338.53 319.48,337.61 322.44,336.69 325.39,335.77 328.34,334.86 331.3,333.95 334.25,333.04 337.2,332.13 340.16,331.23 343.11,330.33 346.06,329.43 349.02,328.54 351.97,327.64 354.92,326.75 357.88,325.87 360.83,324.98 363.78,324.1 366.74,323.22 369.69,322.35 372.64,321.47 375.6,320.6 378.55,319.73 381.5,318.87 384.46,318 387.41,317.14 390.37,316.28 393.32,315.42 396.27,314.57 399.23,313.72 402.18,312.87 405.13,312.02 408.09,311.17 411.04,310.33 413.99,309.49 416.95,308.65 419.9,307.81 422.85,306.98 425.81,306.15 428.76,305.32 431.71,304.49 434.67,303.67 437.62,302.84 440.58,302.02 443.53,301.2 446.48,300.38 449.44,299.57 452.39,298.76 455.34,297.95 458.3,297.14 461.25,296.33 464.2,295.52 467.16,294.72 470.11,293.92 473.06,293.12 476.02,292.32 478.97,291.53 481.92,290.73 484.88,289.94 487.83,289.15 490.78,288.36 493.74,287.58 496.69,286.79 499.65,286.01 502.6,285.23 505.55,284.45 508.51,283.67 511.46,282.9 514.41,282.13 517.37,281.35 520.32,280.58 523.27,279.81 526.23,279.05 529.18,278.28 532.13,277.52 535.09,276.76 538.04,276 540.99,275.24 543.95,274.48 546.9,273.73 549.85,272.97 552.81,272.22"/><polyline points="80.25,430.3 83.2,429.01 86.16,427.73 89.11,426.45 92.06,425.18 95.02,423.92 97.97,422.67 100.92,421.42 103.88,420.19 106.83,418.96 109.78,417.73 112.74,416.52 115.69,415.31 118.64,414.11 121.6,412.91 124.55,411.73 127.5,410.54 130.46,409.37 133.41,408.2 136.36,407.04 139.32,405.88 142.27,404.73 145.22,403.59 148.18,402.45 151.13,401.32 154.09,400.19 157.04,399.07 159.99,397.96 162.95,396.85 165.9,395.74 168.85,394.64 171.81,393.55 174.76,392.46 177.71,391.38 180.67,390.3 183.62,389.22 186.57,388.16 189.53,387.09 192.48,386.03 195.43,384.98 198.39,383.93 201.34,382.88 204.3,381.84 207.25,380.8 210.2,379.77 213.16,378.74 216.11,377.72 219.06,376.7 222.02,375.69 224.97,374.68 227.92,373.67 230.88,372.67 233.83,371.67 236.78,370.67 239.74,369.68 242.69,368.69 245.64,367.71 248.6,366.73 251.55,365.75 254.5,364.78 257.46,363.81 260.41,362.85 263.37,361.89 266.32,360.93 269.27,359.97 272.23,359.02 275.18,358.07 278.13,357.13 281.09,356.19 284.04,355.25 286.99,354.32 289.95,353.38 292.9,352.46 295.85,351.53 298.81,350.61 301.76,349.69 304.71,348.77 307.67,347.86 310.62,346.95 313.57,346.05 316.53,345.14 319.48,344.24 322.44,343.34 325.39,342.45 328.34,341.55 331.3,340.66 334.25,339.78 337.2,338.89 340.16,338.01 343.11,337.13 346.06,336.26 349.02,335.38 351.97,334.51 354.92,333.65 357.88,332.78 360.83,331.92 363.78,331.06 366.74,330.2 369.69,329.34 372.64,328.49 375.6,327.64 378.55,326.79 381.5,325.95 384.46,325.1 387.41,324.26 390.37,323.42 393.32,322.59 396.27,321.75 399.23,320.92 402.18,320.09 405.13,319.26 408.09,318.44 411.04,317.62 413.99,316.8 416.95,315.98 419.9,315.16 422.85,314.35 425.81,313.54 428.76,312.73 431.71,311.92 434.67,311.11 437.62,310.31 440.58,309.51 443.53,308.71 446.48,307.91 449.44,307.11 452.39,306.32 455.34,305.53 458.3,304.74 461.25,303.95 464.2,303.17 467.16,302.38 470.11,301.6 473.06,300.82 476.02,300.04 478.97,299.27 481.92,298.49 484.88,297.72 487.83,296.95 490.78,296.18 493.74,295.41 496.69,294.65 499.65,293.88 502.6,293.12 505.55,292.36 508.51,291.6 511.46,290.85 514.41,290.09 517.37,289.34 520.32,288.59 523.27,287.84 526.23,287.09 529.18,286.34 532.13,285.6 535.09,284.85 538.04,284.11 540.99,283.37 543.95,282.63 546.9,281.89 549.85,281.16 552.81,280.43"/><polyline points="80.25,434.91 83.2,433.65 86.16,432.4 89.11,431.15 92.06,429.92 95.02,428.69 97.97,427.47 100.92,426.25 103.88,425.05 106.83,423.85 109.78,422.66 112.74,421.48 115.69,420.3 118.64,419.13 121.6,417.96 124.55,416.81 127.5,415.66 130.46,414.51 133.41,413.37 136.36,412.24 139.32,411.11 142.27,409.99 145.22,408.88 148.18,407.77 151.13,406.67 154.09,405.57 157.04,404.48 159.99,403.39 162.95,402.31 165.9,401.23 168.85,400.16 171.81,399.1 174.76,398.04 177.71,396.98 180.67,395.93 183.62,394.88 186.57,393.84 189.53,392.81 192.48,391.77 195.43,390.75 198.39,389.72 201.34,388.71 204.3,387.69 207.25,386.68 210.2,385.68 213.16,384.67 216.11,383.68 219.06,382.68 222.02,381.7 224.97,380.71 227.92,379.73 230.88,378.75 233.83,377.78 236.78,376.81 239.74,375.84 242.69,374.88 245.64,373.92 248.6,372.97 251.55,372.02 254.5,371.07 257.46,370.13 260.41,369.19 263.37,368.25 266.32,367.32 269.27,366.39 272.23,365.46 275.18,364.54 278.13,363.62 281.09,362.7 284.04,361.79 286.99,360.88 289.95,359.97 292.9,359.07 295.85,358.16 298.81,357.27 301.76,356.37 304.71,355.48 307.67,354.59 310.62,353.7 313.57,352.82 316.53,351.94 319.48,351.06 322.44,350.19 325.39,349.32 328.34,348.45 331.3,347.58 334.25,346.72 337.2,345.85 340.16,345 343.11,344.14 346.06,343.29 349.02,342.44 351.97,341.59 354.92,340.74 357.88,339.9 360.83,339.06 363.78,338.22 366.74,337.39 369.69,336.55 372.64,335.72 375.6,334.89 378.55,334.07 381.5,333.24 384.46,332.42 387.41,331.6 390.37,330.79 393.32,329.97 396.27,329.16 399.23,328.35 402.18,327.54 405.13,326.74 408.09,325.93 411.04,325.13 413.99,324.33 416.95,323.53 419.9,322.74 422.85,321.95 425.81,321.16 428.76,320.37 431.71,319.58 434.67,318.8 437.62,318.01 440.58,317.23 443.53,316.45 446.48,315.68 449.44,314.9 452.39,314.13 455.34,313.36 458.3,312.59 461.25,311.82 464.2,311.06 467.16,310.29 470.11,309.53 473.06,308.77 476.02,308.01 478.97,307.26 481.92,306.5 484.88,305.75 487.83,305 490.78,304.25 493.74,303.5 496.69,302.76 499.65,302.02 502.6,301.27 505.55,300.53 508.51,299.79 511.46,299.06 514.41,298.32 517.37,297.59 520.32,296.86 523.27,296.13 526.23,295.4 529.18,294.67 532.13,293.95 535.09,293.22 538.04,292.5 540.99,291.78 543.95,291.06 546.9,290.34 549.85,289.62 552.81,288.91"/><polyline points="80.25,439.66 83.2,438.43 86.16,437.21 89.11,436 92.06,434.8 95.02,433.6 97.97,432.41 100.92,431.23 103.88,430.06 106.83,428.89 109.78,427.73 112.74,426.58 115.69,425.43 118.64,424.29 121.6,423.16 124.55,422.03 127.5,420.91 130.46,419.8 133.41,418.69 136.36,417.59 139.32,416.49 142.27,415.4 145.22,414.31 148.18,413.24 151.13,412.16 154.09,411.09 157.04,410.03 159.99,408.97 162.95,407.92 165.9,406.87 168.85,405.83 171.81,404.79 174.76,403.76 177.71,402.73 180.67,401.71 183.62,400.69 186.57,399.68 189.53,398.67 192.48,397.66 195.43,396.66 198.39,395.67 201.34,394.67 204.3,393.69 207.25,392.7 210.2,391.72 213.16,390.75 216.11,389.78 219.06,388.81 222.02,387.85 224.97,386.89 227.92,385.94 230.88,384.98 233.83,384.04 236.78,383.09 239.74,382.15 242.69,381.22 245.64,380.28 248.6,379.36 251.55,378.43 254.5,377.51 257.46,376.59 260.41,375.67 263.37,374.76 266.32,373.85 269.27,372.95 272.23,372.04 275.18,371.15 278.13,370.25 281.09,369.36 284.04,368.47 286.99,367.58 289.95,366.7 292.9,365.82 295.85,364.94 298.81,364.07 301.76,363.2 304.71,362.33 307.67,361.46 310.62,360.6 313.57,359.74 316.53,358.88 319.48,358.03 322.44,357.18 325.39,356.33 328.34,355.48 331.3,354.64 334.25,353.8 337.2,352.96 340.16,352.12 343.11,351.29 346.06,350.46 349.02,349.63 351.97,348.8 354.92,347.98 357.88,347.16 360.83,346.34 363.78,345.53 366.74,344.71 369.69,343.9 372.64,343.09 375.6,342.29 378.55,341.48 381.5,340.68 384.46,339.88 387.41,339.08 390.37,338.29 393.32,337.49 396.27,336.7 399.23,335.91 402.18,335.13 405.13,334.34 408.09,333.56 411.04,332.78 413.99,332 416.95,331.23 419.9,330.45 422.85,329.68 425.81,328.91 428.76,328.14 431.71,327.38 434.67,326.61 437.62,325.85 440.58,325.09 443.53,324.33 446.48,323.58 449.44,322.82 452.39,322.07 455.34,321.32 458.3,320.57 461.25,319.83 464.2,319.08 467.16,318.34 470.11,317.6 473.06,316.86 476.02,316.12 478.97,315.38 481.92,314.65 484.88,313.92 487.83,313.19 490.78,312.46 493.74,311.73 496.69,311 499.65,310.28 502.6,309.56 505.55,308.84 508.51,308.12 511.46,307.4 514.41,306.68 517.37,305.97 520.32,305.26 523.27,304.55 526.23,303.84 529.18,303.13 532.13,302.42 535.09,301.72 538.04,301.01 540.99,300.31 543.95,299.61 546.9,298.91 549.85,298.22 552.81,297.52"/><polyline points="80.25,444.49 83.2,443.3 86.16,442.12 89.11,440.94 92.06,439.77 95.02,438.61 97.97,437.45 100.92,436.31 103.88,435.16 106.83,434.03 109.78,432.9 112.74,431.78 115.69,430.67 118.64,429.56 121.6,428.46 124.55,427.37 127.5,426.28 130.46,425.19 133.41,424.12 136.36,423.04 139.32,421.98 142.27,420.92 145.22,419.86 148.18,418.82 151.13,417.77 154.09,416.73 157.04,415.7 159.99,414.67 162.95,413.65 165.9,412.63 168.85,411.62 171.81,410.61 174.76,409.61 177.71,408.61 180.67,407.61 183.62,406.62 186.57,405.64 189.53,404.66 192.48,403.68 195.43,402.71 198.39,401.74 201.34,400.78 204.3,399.82 207.25,398.86 210.2,397.91 213.16,396.96 216.11,396.02 219.06,395.08 222.02,394.14 224.97,393.21 227.92,392.28 230.88,391.36 233.83,390.44 236.78,389.52 239.74,388.61 242.69,387.7 245.64,386.79 248.6,385.89 251.55,384.99 254.5,384.09 257.46,383.2 260.41,382.31 263.37,381.42 266.32,380.54 269.27,379.66 272.23,378.78 275.18,377.91 278.13,377.04 281.09,376.17 284.04,375.31 286.99,374.45 289.95,373.59 292.9,372.73 295.85,371.88 298.81,371.03 301.76,370.18 304.71,369.34 307.67,368.5 310.62,367.66 313.57,366.82 316.53,365.99 319.48,365.16 322.44,364.33 325.39,363.51 328.34,362.69 331.3,361.87 334.25,361.05 337.2,360.23 340.16,359.42 343.11,358.61 346.06,357.81 349.02,357 351.97,356.2 354.92,355.4 357.88,354.6 360.83,353.81 363.78,353.01 366.74,352.22 369.69,351.43 372.64,350.65 375.6,349.86 378.55,349.08 381.5,348.3 384.46,347.53 387.41,346.75 390.37,345.98 393.32,345.21 396.27,344.44 399.23,343.67 402.18,342.91 405.13,342.15 408.09,341.39 411.04,340.63 413.99,339.87 416.95,339.12 419.9,338.37 422.85,337.62 425.81,336.87 428.76,336.12 431.71,335.38 434.67,334.64 437.62,333.9 440.58,333.16 443.53,332.42 446.48,331.69 449.44,330.95 452.39,330.22 455.34,329.49 458.3,328.77 461.25,328.04 464.2,327.32 467.16,326.59 470.11,325.87 473.06,325.15 476.02,324.44 478.97,323.72 481.92,323.01 484.88,322.3 487.83,321.59 490.78,320.88 493.74,320.17 496.69,319.47 499.65,318.76 502.6,318.06 505.55,317.36 508.51,316.66 511.46,315.96 514.41,315.27 517.37,314.58 520.32,313.88 523.27,313.19 526.23,312.5 529.18,311.81 532.13,311.13 535.09,310.44 538.04,309.76 540.99,309.08 543.95,308.4 546.9,307.72 549.85,307.04 552.81,306.37"/><polyline points="80.25,492.82 83.2,491.96 86.16,491.09 89.11,490.24 92.06,489.39 95.02,488.54 97.97,487.7 100.92,486.87 103.88,486.04 106.83,485.22 109.78,484.4 112.74,483.58 115.69,482.77 118.64,481.97 121.6,481.17 124.55,480.37 127.5,479.58 130.46,478.79 133.41,478.01 136.36,477.23 139.32,476.46 142.27,475.69 145.22,474.92 148.18,474.16 151.13,473.4 154.09,472.64 157.04,471.89 159.99,471.15 162.95,470.4 165.9,469.66 168.85,468.93 171.81,468.2 174.76,467.47 177.71,466.74 180.67,466.02 183.62,465.3 186.57,464.58 189.53,463.87 192.48,463.16 195.43,462.46 198.39,461.75 201.34,461.05 204.3,460.36 207.25,459.66 210.2,458.97 213.16,458.28 216.11,457.6 219.06,456.92 222.02,456.24 224.97,455.56 227.92,454.89 230.88,454.22 233.83,453.55 236.78,452.88 239.74,452.22 242.69,451.56 245.64,450.9 248.6,450.25 251.55,449.59 254.5,448.94 257.46,448.29 260.41,447.65 263.37,447.01 266.32,446.36 269.27,445.73 272.23,445.09 275.18,444.46 278.13,443.82 281.09,443.19 284.04,442.57 286.99,441.94 289.95,441.32 292.9,440.7 295.85,440.08 298.81,439.46 301.76,438.85 304.71,438.24 307.67,437.63 310.62,437.02 313.57,436.41 316.53,435.81 319.48,435.21 322.44,434.61 325.39,434.01 328.34,433.41 331.3,432.82 334.25,432.22 337.2,431.63 340.16,431.04 343.11,430.46 346.06,429.87 349.02,429.29 351.97,428.71 354.92,428.13 357.88,427.55 360.83,426.97 363.78,426.4 366.74,425.82 369.69,425.25 372.64,424.68 375.6,424.11 378.55,423.55 381.5,422.98 384.46,422.42 387.41,421.86 390.37,421.3 393.32,420.74 396.27,420.18 399.23,419.62 402.18,419.07 405.13,418.52 408.09,417.97 411.04,417.42 413.99,416.87 416.95,416.32 419.9,415.78 422.85,415.23 425.81,414.69 428.76,414.15 431.71,413.61 434.67,413.07 437.62,412.54 440.58,412 443.53,411.47 446.48,410.94 449.44,410.41 452.39,409.88 455.34,409.35 458.3,408.82 461.25,408.29 464.2,407.77 467.16,407.25 470.11,406.72 473.06,406.2 476.02,405.68 478.97,405.17 481.92,404.65 484.88,404.13 487.83,403.62 490.78,403.11 493.74,402.59 496.69,402.08 499.65,401.57 502.6,401.07 505.55,400.56 508.51,400.05 511.46,399.55 514.41,399.04 517.37,398.54 520.32,398.04 523.27,397.54 526.23,397.04 529.18,396.54 532.13,396.04 535.09,395.55 538.04,395.05 540.99,394.56 543.95,394.07 546.9,393.58 549.85,393.09 552.81,392.6"/><polyline points="80.25,493.9 83.2,493.9 86.16,493.9 89.11,493.9 92.06,493.9 95.02,493.9 97.97,493.9 100.92,493.9 103.88,493.9 106.83,493.9 109.78,493.9 112.74,493.9 115.69,493.9 118.64,493.9 121.6,493.9 124.55,493.9 127.5,493.9 130.46,493.9 133.41,493.9 136.36,493.9 139.32,493.9 142.27,493.9 145.22,493.9 148.18,493.9 151.13,493.9 154.09,493.9 157.04,493.9 159.99,493.9 162.95,493.9 165.9,493.9 168.85,493.9 171.81,493.9 174.76,493.9 177.71,493.9 180.67,493.9 183.62,493.9 186.57,493.9 189.53,493.9 192.48,493.9 195.43,493.9 198.39,493.9 201.34,493.9 204.3,493.9 207.25,493.9 210.2,493.9 213.16,493.9 216.11,493.9 219.06,493.9 222.02,493.9 224.97,493.9 227.92,493.9 230.88,493.9 233.83,493.9 236.78,493.9 239.74,493.9 242.69,493.9 245.64,493.9 248.6,493.52 251.55,493.03 254.5,492.54 257.46,492.05 260.41,491.56 263.37,491.08 266.32,490.59 269.27,490.11 272.23,489.63 275.18,489.15 278.13,488.68 281.09,488.2 284.04,487.73 286.99,487.26 289.95,486.79 292.9,486.32 295.85,485.85 298.81,485.39 301.76,484.92 304.71,484.46 307.67,484 310.62,483.54 313.57,483.08 316.53,482.63 319.48,482.17 322.44,481.72 325.39,481.27 328.34,480.82 331.3,480.37 334.25,479.92 337.2,479.48 340.16,479.03 343.11,478.59 346.06,478.15 349.02,477.71 351.97,477.27 354.92,476.83 357.88,476.39 360.83,475.96 363.78,475.52 366.74,475.09 369.69,474.66 372.64,474.23 375.6,473.8 378.55,473.37 381.5,472.94 384.46,472.52 387.41,472.1 390.37,471.67 393.32,471.25 396.27,470.83 399.23,470.41 402.18,469.99 405.13,469.57 408.09,469.16 411.04,468.74 413.99,468.33 416.95,467.92 419.9,467.5 422.85,467.09 425.81,466.68 428.76,466.28 431.71,465.87 434.67,465.46 437.62,465.06 440.58,464.65 443.53,464.25 446.48,463.85 449.44,463.45 452.39,463.05 455.34,462.65 458.3,462.25 461.25,461.85 464.2,461.45 467.16,461.06 470.11,460.67 473.06,460.27 476.02,459.88 478.97,459.49 481.92,459.1 484.88,458.71 487.83,458.32 490.78,457.93 493.74,457.54 496.69,457.16 499.65,456.77 502.6,456.39 505.55,456.01 508.51,455.62 511.46,455.24 514.41,454.86 517.37,454.48 520.32,454.1 523.27,453.72 526.23,453.35 529.18,452.97 532.13,452.59 535.09,452.22 538.04,451.84 540.99,451.47 543.95,451.1 546.9,450.73 549.85,450.36 552.81,449.99"/></g>
<line x1="203.11" y1="35" x2="203.11" y2="487.5" stroke="#000" stroke-width="2.1" stroke-dasharray="3.2 4.27" stroke-dashoffset="3.57"/>
<line x1="281.32" y1="35" x2="281.32" y2="487.5" stroke="#000" stroke-width="2.1" stroke-dasharray="3.2 4.27" stroke-dashoffset="3.57"/>
<line x1="361.81" y1="35" x2="361.81" y2="487.5" stroke="#000" stroke-width="2.1" stroke-dasharray="3.2 4.27" stroke-dashoffset="3.57"/>
</g>
<rect x="80.35" y="33.5" width="472.25" height="455.4" fill="none" stroke="#000" stroke-width="3.2"/>
<path d="M96 488.9V497.6M174.76 488.9V497.6M253.52 488.9V497.6M332.28 488.9V497.6M411.04 488.9V497.6M489.8 488.9V497.6M135.38 488.9V493.3M214.14 488.9V493.3M292.9 488.9V493.3M371.66 488.9V493.3M450.42 488.9V493.3M529.18 488.9V493.3M80.35 454.9H71.05M80.35 370.6H71.05M80.35 286.3H71.05M80.35 202H71.05M80.35 117.7H71.05M80.35 33.4H71.05M80.35 412.75H75.35M80.35 328.45H75.35M80.35 244.15H75.35M80.35 159.85H75.35M80.35 75.55H75.35" stroke="#000" stroke-width="3.4" fill="none"/>
<text class="tk" x="96" y="523.6" text-anchor="middle">3</text>
<text class="tk" x="174.76" y="523.6" text-anchor="middle">4</text>
<text class="tk" x="253.52" y="523.6" text-anchor="middle">5</text>
<text class="tk" x="332.28" y="523.6" text-anchor="middle">6</text>
<text class="tk" x="411.04" y="523.6" text-anchor="middle">7</text>
<text class="tk" x="489.8" y="523.6" text-anchor="middle">8</text>
<text class="tk" x="65.1" y="461.6" text-anchor="end">2</text>
<text class="tk" x="65.1" y="377.3" text-anchor="end">3</text>
<text class="tk" x="65.1" y="293" text-anchor="end">4</text>
<text class="tk" x="65.1" y="208.7" text-anchor="end">5</text>
<text class="tk" x="65.1" y="124.4" text-anchor="end">6</text>
<text class="tk" x="65.1" y="40.1" text-anchor="end">7</text>
<clipPath id="cb"><rect x="643.95" y="33.5" width="472.25" height="455.4"/></clipPath>
<g clip-path="url(#cb)">
<rect x="643.95" y="33.5" width="472.25" height="455.4" fill="#808080"/>
<polygon fill="#c0c0c0" points="643.85,233.34 646.8,230.74 649.75,228.16 652.71,225.6 655.66,223.05 658.62,220.53 661.57,218.01 664.52,215.51 667.48,213.03 670.43,210.56 673.38,208.11 676.34,205.67 679.29,203.25 682.24,200.84 685.2,198.44 688.15,196.06 691.1,193.69 694.06,191.34 697.01,188.99 699.96,186.66 702.92,184.34 705.87,182.04 708.83,179.74 711.78,177.46 714.73,175.19 717.69,172.93 720.64,170.69 723.59,168.45 726.55,166.22 729.5,164.01 732.45,161.81 735.41,159.61 738.36,157.43 741.31,155.26 744.27,153.1 747.22,150.94 750.17,148.8 753.13,146.67 756.08,144.54 759.03,142.43 761.99,140.33 764.94,138.23 767.89,136.14 770.85,134.07 773.8,132 776.76,129.94 779.71,127.89 782.66,125.84 785.62,123.81 788.57,121.78 791.52,119.77 794.48,117.76 797.43,115.76 800.38,113.76 803.34,111.78 806.29,109.8 809.24,107.83 812.2,105.86 815.15,103.91 818.1,101.96 821.06,100.02 824.01,98.09 826.97,96.16 829.92,94.24 832.87,92.33 835.83,90.42 838.78,88.53 841.73,86.63 844.69,84.75 847.64,82.87 850.59,81 853.55,79.13 856.5,77.27 859.45,75.42 862.41,73.57 865.36,71.73 868.31,69.9 871.27,68.07 874.22,66.25 877.17,64.44 880.13,62.63 883.08,60.82 886.04,59.02 888.99,57.23 891.94,55.44 894.9,53.66 897.85,51.89 900.8,50.12 903.76,48.35 906.71,46.59 909.66,44.84 912.62,43.09 915.57,41.35 918.52,39.61 921.48,37.88 924.43,36.15 927.38,34.43 930.34,32.71 933.29,31 936.24,29.29 939.2,28.5 942.15,28.5 945.11,28.5 948.06,28.5 951.01,28.5 953.97,28.5 956.92,28.5 959.87,28.5 962.83,28.5 965.78,28.5 968.73,28.5 971.69,28.5 974.64,28.5 977.59,28.5 980.55,28.5 983.5,28.5 986.45,28.5 989.41,28.5 992.36,28.5 995.31,28.5 998.27,28.5 1001.22,28.5 1004.18,28.5 1007.13,28.5 1010.08,28.5 1013.04,28.5 1015.99,28.5 1018.94,28.5 1021.9,28.5 1024.85,28.5 1027.8,28.5 1030.76,28.5 1033.71,28.5 1036.66,28.5 1039.62,28.5 1042.57,28.5 1045.52,28.5 1048.48,28.5 1051.43,28.5 1054.38,28.5 1057.34,28.5 1060.29,28.5 1063.25,28.5 1066.2,28.5 1069.15,28.5 1072.11,28.5 1075.06,28.5 1078.01,28.5 1080.97,28.5 1083.92,28.5 1086.87,28.5 1089.83,28.5 1092.78,28.5 1095.73,28.5 1098.69,28.5 1101.64,28.5 1104.59,28.5 1107.55,28.5 1110.5,28.5 1113.45,28.5 1116.41,28.5 1118.2,493.9 641.95,493.9"/>
<polygon fill="#c70c30" points="643.85,242.72 646.8,240.17 649.75,237.64 652.71,235.13 655.66,232.64 658.62,230.16 661.57,227.69 664.52,225.24 667.48,222.81 670.43,220.39 673.38,217.98 676.34,215.59 679.29,213.21 682.24,210.85 685.2,208.5 688.15,206.16 691.1,203.84 694.06,201.53 697.01,199.23 699.96,196.94 702.92,194.67 705.87,192.41 708.83,190.16 711.78,187.92 714.73,185.69 717.69,183.48 720.64,181.27 723.59,179.08 726.55,176.9 729.5,174.72 732.45,172.56 735.41,170.41 738.36,168.27 741.31,166.14 744.27,164.01 747.22,161.9 750.17,159.8 753.13,157.71 756.08,155.62 759.03,153.55 761.99,151.48 764.94,149.43 767.89,147.38 770.85,145.34 773.8,143.31 776.76,141.29 779.71,139.28 782.66,137.27 785.62,135.27 788.57,133.29 791.52,131.31 794.48,129.33 797.43,127.37 800.38,125.41 803.34,123.46 806.29,121.52 809.24,119.59 812.2,117.66 815.15,115.74 818.1,113.83 821.06,111.92 824.01,110.02 826.97,108.13 829.92,106.25 832.87,104.37 835.83,102.5 838.78,100.64 841.73,98.78 844.69,96.93 847.64,95.08 850.59,93.25 853.55,91.41 856.5,89.59 859.45,87.77 862.41,85.96 865.36,84.15 868.31,82.35 871.27,80.55 874.22,78.77 877.17,76.98 880.13,75.2 883.08,73.43 886.04,71.67 888.99,69.91 891.94,68.15 894.9,66.4 897.85,64.66 900.8,62.92 903.76,61.19 906.71,59.46 909.66,57.74 912.62,56.02 915.57,54.31 918.52,52.6 921.48,50.9 924.43,49.2 927.38,47.51 930.34,45.82 933.29,44.14 936.24,42.47 939.2,40.79 942.15,39.13 945.11,37.46 948.06,35.8 951.01,34.15 953.97,32.5 956.92,30.86 959.87,29.22 962.83,28.5 965.78,28.5 968.73,28.5 971.69,28.5 974.64,28.5 977.59,28.5 980.55,28.5 983.5,28.5 986.45,28.5 989.41,28.5 992.36,28.5 995.31,28.5 998.27,28.5 1001.22,28.5 1004.18,28.5 1007.13,28.5 1010.08,28.5 1013.04,28.5 1015.99,28.5 1018.94,28.5 1021.9,28.5 1024.85,28.5 1027.8,28.5 1030.76,28.5 1033.71,28.5 1036.66,28.5 1039.62,28.5 1042.57,28.5 1045.52,28.5 1048.48,28.5 1051.43,28.5 1054.38,28.5 1057.34,28.5 1060.29,28.5 1063.25,28.5 1066.2,28.5 1069.15,28.5 1072.11,28.5 1075.06,28.5 1078.01,28.5 1080.97,28.5 1083.92,28.5 1086.87,28.5 1089.83,28.5 1092.78,28.5 1095.73,28.5 1098.69,28.5 1101.64,28.5 1104.59,28.5 1107.55,28.5 1110.5,28.5 1113.45,28.5 1116.41,28.5 1118.2,493.9 641.95,493.9"/>
<polygon fill="#ff0000" points="643.85,251.79 646.8,249.31 649.75,246.84 652.71,244.39 655.66,241.95 658.62,239.53 661.57,237.13 664.52,234.74 667.48,232.36 670.43,230 673.38,227.65 676.34,225.32 679.29,223 682.24,220.69 685.2,218.4 688.15,216.12 691.1,213.85 694.06,211.6 697.01,209.36 699.96,207.12 702.92,204.91 705.87,202.7 708.83,200.5 711.78,198.32 714.73,196.14 717.69,193.98 720.64,191.83 723.59,189.69 726.55,187.56 729.5,185.44 732.45,183.33 735.41,181.23 738.36,179.14 741.31,177.06 744.27,174.99 747.22,172.93 750.17,170.88 753.13,168.83 756.08,166.8 759.03,164.78 761.99,162.76 764.94,160.76 767.89,158.76 770.85,156.77 773.8,154.79 776.76,152.81 779.71,150.85 782.66,148.89 785.62,146.95 788.57,145.01 791.52,143.07 794.48,141.15 797.43,139.23 800.38,137.32 803.34,135.42 806.29,133.52 809.24,131.64 812.2,129.76 815.15,127.88 818.1,126.02 821.06,124.16 824.01,122.31 826.97,120.46 829.92,118.62 832.87,116.79 835.83,114.96 838.78,113.15 841.73,111.33 844.69,109.53 847.64,107.73 850.59,105.93 853.55,104.15 856.5,102.37 859.45,100.59 862.41,98.82 865.36,97.06 868.31,95.3 871.27,93.55 874.22,91.8 877.17,90.06 880.13,88.33 883.08,86.6 886.04,84.88 888.99,83.16 891.94,81.45 894.9,79.74 897.85,78.04 900.8,76.34 903.76,74.65 906.71,72.96 909.66,71.28 912.62,69.61 915.57,67.94 918.52,66.27 921.48,64.61 924.43,62.96 927.38,61.3 930.34,59.66 933.29,58.02 936.24,56.38 939.2,54.75 942.15,53.12 945.11,51.5 948.06,49.88 951.01,48.27 953.97,46.66 956.92,45.05 959.87,43.45 962.83,41.86 965.78,40.27 968.73,38.68 971.69,37.1 974.64,35.52 977.59,33.95 980.55,32.38 983.5,30.81 986.45,29.25 989.41,28.5 992.36,28.5 995.31,28.5 998.27,28.5 1001.22,28.5 1004.18,28.5 1007.13,28.5 1010.08,28.5 1013.04,28.5 1015.99,28.5 1018.94,28.5 1021.9,28.5 1024.85,28.5 1027.8,28.5 1030.76,28.5 1033.71,28.5 1036.66,28.5 1039.62,28.5 1042.57,28.5 1045.52,28.5 1048.48,28.5 1051.43,28.5 1054.38,28.5 1057.34,28.5 1060.29,28.5 1063.25,28.5 1066.2,28.5 1069.15,28.5 1072.11,28.5 1075.06,28.5 1078.01,28.5 1080.97,28.5 1083.92,28.5 1086.87,28.5 1089.83,28.5 1092.78,28.5 1095.73,28.5 1098.69,28.5 1101.64,28.5 1104.59,28.5 1107.55,28.5 1110.5,28.5 1113.45,28.5 1116.41,28.5 1118.2,493.9 641.95,493.9"/>
<polygon fill="#8000ff" points="643.85,261.25 646.8,258.82 649.75,256.42 652.71,254.02 655.66,251.65 658.62,249.29 661.57,246.94 664.52,244.61 667.48,242.29 670.43,239.99 673.38,237.69 676.34,235.42 679.29,233.15 682.24,230.9 685.2,228.67 688.15,226.44 691.1,224.23 694.06,222.03 697.01,219.84 699.96,217.66 702.92,215.5 705.87,213.34 708.83,211.2 711.78,209.07 714.73,206.94 717.69,204.83 720.64,202.73 723.59,200.65 726.55,198.57 729.5,196.5 732.45,194.44 735.41,192.39 738.36,190.35 741.31,188.32 744.27,186.3 747.22,184.29 750.17,182.28 753.13,180.29 756.08,178.31 759.03,176.33 761.99,174.36 764.94,172.4 767.89,170.45 770.85,168.51 773.8,166.58 776.76,164.65 779.71,162.74 782.66,160.83 785.62,158.92 788.57,157.03 791.52,155.14 794.48,153.27 797.43,151.39 800.38,149.53 803.34,147.67 806.29,145.82 809.24,143.98 812.2,142.15 815.15,140.32 818.1,138.5 821.06,136.68 824.01,134.87 826.97,133.07 829.92,131.28 832.87,129.49 835.83,127.71 838.78,125.93 841.73,124.16 844.69,122.4 847.64,120.64 850.59,118.89 853.55,117.14 856.5,115.41 859.45,113.67 862.41,111.94 865.36,110.22 868.31,108.51 871.27,106.8 874.22,105.09 877.17,103.39 880.13,101.7 883.08,100.01 886.04,98.33 888.99,96.65 891.94,94.98 894.9,93.32 897.85,91.65 900.8,90 903.76,88.35 906.71,86.7 909.66,85.06 912.62,83.42 915.57,81.79 918.52,80.17 921.48,78.54 924.43,76.93 927.38,75.32 930.34,73.71 933.29,72.11 936.24,70.51 939.2,68.91 942.15,67.33 945.11,65.74 948.06,64.16 951.01,62.59 953.97,61.02 956.92,59.45 959.87,57.89 962.83,56.33 965.78,54.77 968.73,53.23 971.69,51.68 974.64,50.14 977.59,48.6 980.55,47.07 983.5,45.54 986.45,44.01 989.41,42.49 992.36,40.98 995.31,39.46 998.27,37.95 1001.22,36.45 1004.18,34.95 1007.13,33.45 1010.08,31.96 1013.04,30.46 1015.99,28.98 1018.94,28.5 1021.9,28.5 1024.85,28.5 1027.8,28.5 1030.76,28.5 1033.71,28.5 1036.66,28.5 1039.62,28.5 1042.57,28.5 1045.52,28.5 1048.48,28.5 1051.43,28.5 1054.38,28.5 1057.34,28.5 1060.29,28.5 1063.25,28.5 1066.2,28.5 1069.15,28.5 1072.11,28.5 1075.06,28.5 1078.01,28.5 1080.97,28.5 1083.92,28.5 1086.87,28.5 1089.83,28.5 1092.78,28.5 1095.73,28.5 1098.69,28.5 1101.64,28.5 1104.59,28.5 1107.55,28.5 1110.5,28.5 1113.45,28.5 1116.41,28.5 1118.2,493.9 641.95,493.9"/>
<polygon fill="#0000ff" points="643.85,270.68 646.8,268.32 649.75,265.98 652.71,263.65 655.66,261.34 658.62,259.04 661.57,256.76 664.52,254.49 667.48,252.24 670.43,249.99 673.38,247.77 676.34,245.55 679.29,243.35 682.24,241.16 685.2,238.98 688.15,236.82 691.1,234.67 694.06,232.53 697.01,230.4 699.96,228.28 702.92,226.17 705.87,224.08 708.83,221.99 711.78,219.92 714.73,217.86 717.69,215.81 720.64,213.76 723.59,211.73 726.55,209.71 729.5,207.7 732.45,205.69 735.41,203.7 738.36,201.72 741.31,199.74 744.27,197.78 747.22,195.82 750.17,193.87 753.13,191.93 756.08,190 759.03,188.08 761.99,186.17 764.94,184.26 767.89,182.37 770.85,180.48 773.8,178.6 776.76,176.73 779.71,174.86 782.66,173 785.62,171.15 788.57,169.31 791.52,167.48 794.48,165.65 797.43,163.83 800.38,162.02 803.34,160.21 806.29,158.41 809.24,156.62 812.2,154.84 815.15,153.06 818.1,151.29 821.06,149.52 824.01,147.76 826.97,146.01 829.92,144.26 832.87,142.53 835.83,140.79 838.78,139.07 841.73,137.34 844.69,135.63 847.64,133.92 850.59,132.22 853.55,130.52 856.5,128.83 859.45,127.15 862.41,125.47 865.36,123.79 868.31,122.12 871.27,120.46 874.22,118.8 877.17,117.15 880.13,115.5 883.08,113.86 886.04,112.23 888.99,110.6 891.94,108.97 894.9,107.35 897.85,105.73 900.8,104.12 903.76,102.52 906.71,100.92 909.66,99.32 912.62,97.73 915.57,96.14 918.52,94.56 921.48,92.99 924.43,91.41 927.38,89.85 930.34,88.28 933.29,86.72 936.24,85.17 939.2,83.62 942.15,82.08 945.11,80.54 948.06,79 951.01,77.47 953.97,75.94 956.92,74.42 959.87,72.9 962.83,71.38 965.78,69.87 968.73,68.36 971.69,66.86 974.64,65.36 977.59,63.87 980.55,62.38 983.5,60.89 986.45,59.41 989.41,57.93 992.36,56.45 995.31,54.98 998.27,53.51 1001.22,52.05 1004.18,50.59 1007.13,49.13 1010.08,47.68 1013.04,46.23 1015.99,44.79 1018.94,43.35 1021.9,41.91 1024.85,40.47 1027.8,39.04 1030.76,37.61 1033.71,36.19 1036.66,34.77 1039.62,33.35 1042.57,31.94 1045.52,30.53 1048.48,29.12 1051.43,28.5 1054.38,28.5 1057.34,28.5 1060.29,28.5 1063.25,28.5 1066.2,28.5 1069.15,28.5 1072.11,28.5 1075.06,28.5 1078.01,28.5 1080.97,28.5 1083.92,28.5 1086.87,28.5 1089.83,28.5 1092.78,28.5 1095.73,28.5 1098.69,28.5 1101.64,28.5 1104.59,28.5 1107.55,28.5 1110.5,28.5 1113.45,28.5 1116.41,28.5 1118.2,493.9 641.95,493.9"/>
<polygon fill="#ff8000" points="643.85,280.6 646.8,278.31 649.75,276.04 652.71,273.78 655.66,271.53 658.62,269.3 661.57,267.09 664.52,264.88 667.48,262.69 670.43,260.51 673.38,258.35 676.34,256.2 679.29,254.06 682.24,251.93 685.2,249.82 688.15,247.72 691.1,245.63 694.06,243.55 697.01,241.48 699.96,239.42 702.92,237.38 705.87,235.34 708.83,233.32 711.78,231.3 714.73,229.3 717.69,227.31 720.64,225.32 723.59,223.35 726.55,221.38 729.5,219.43 732.45,217.49 735.41,215.55 738.36,213.62 741.31,211.7 744.27,209.8 747.22,207.9 750.17,206 753.13,204.12 756.08,202.25 759.03,200.38 761.99,198.52 764.94,196.67 767.89,194.83 770.85,192.99 773.8,191.17 776.76,189.35 779.71,187.54 782.66,185.73 785.62,183.94 788.57,182.15 791.52,180.37 794.48,178.59 797.43,176.82 800.38,175.06 803.34,173.31 806.29,171.56 809.24,169.82 812.2,168.09 815.15,166.36 818.1,164.64 821.06,162.93 824.01,161.22 826.97,159.52 829.92,157.82 832.87,156.13 835.83,154.45 838.78,152.77 841.73,151.1 844.69,149.44 847.64,147.78 850.59,146.12 853.55,144.48 856.5,142.83 859.45,141.2 862.41,139.56 865.36,137.94 868.31,136.32 871.27,134.7 874.22,133.09 877.17,131.49 880.13,129.89 883.08,128.3 886.04,126.71 888.99,125.12 891.94,123.54 894.9,121.97 897.85,120.4 900.8,118.84 903.76,117.28 906.71,115.72 909.66,114.17 912.62,112.63 915.57,111.09 918.52,109.55 921.48,108.02 924.43,106.49 927.38,104.97 930.34,103.45 933.29,101.94 936.24,100.43 939.2,98.93 942.15,97.43 945.11,95.93 948.06,94.44 951.01,92.95 953.97,91.47 956.92,89.99 959.87,88.51 962.83,87.04 965.78,85.57 968.73,84.11 971.69,82.65 974.64,81.2 977.59,79.74 980.55,78.3 983.5,76.85 986.45,75.41 989.41,73.98 992.36,72.54 995.31,71.11 998.27,69.69 1001.22,68.27 1004.18,66.85 1007.13,65.44 1010.08,64.02 1013.04,62.62 1015.99,61.21 1018.94,59.81 1021.9,58.42 1024.85,57.02 1027.8,55.63 1030.76,54.25 1033.71,52.86 1036.66,51.48 1039.62,50.11 1042.57,48.74 1045.52,47.37 1048.48,46 1051.43,44.64 1054.38,43.27 1057.34,41.92 1060.29,40.56 1063.25,39.21 1066.2,37.87 1069.15,36.52 1072.11,35.18 1075.06,33.84 1078.01,32.51 1080.97,31.17 1083.92,29.84 1086.87,28.52 1089.83,28.5 1092.78,28.5 1095.73,28.5 1098.69,28.5 1101.64,28.5 1104.59,28.5 1107.55,28.5 1110.5,28.5 1113.45,28.5 1116.41,28.5 1118.2,493.9 641.95,493.9"/>
<polygon fill="#42bdbd" points="643.85,290.39 646.8,288.17 649.75,285.97 652.71,283.77 655.66,281.6 658.62,279.43 661.57,277.28 664.52,275.14 667.48,273.02 670.43,270.91 673.38,268.81 676.34,266.72 679.29,264.65 682.24,262.59 685.2,260.54 688.15,258.5 691.1,256.47 694.06,254.45 697.01,252.45 699.96,250.45 702.92,248.47 705.87,246.49 708.83,244.53 711.78,242.58 714.73,240.63 717.69,238.7 720.64,236.78 723.59,234.86 726.55,232.96 729.5,231.06 732.45,229.17 735.41,227.3 738.36,225.43 741.31,223.57 744.27,221.72 747.22,219.87 750.17,218.04 753.13,216.21 756.08,214.39 759.03,212.58 761.99,210.78 764.94,208.99 767.89,207.2 770.85,205.42 773.8,203.65 776.76,201.89 779.71,200.13 782.66,198.38 785.62,196.64 788.57,194.9 791.52,193.17 794.48,191.45 797.43,189.74 800.38,188.03 803.34,186.33 806.29,184.64 809.24,182.95 812.2,181.27 815.15,179.59 818.1,177.92 821.06,176.26 824.01,174.6 826.97,172.95 829.92,171.31 832.87,169.67 835.83,168.04 838.78,166.41 841.73,164.79 844.69,163.18 847.64,161.57 850.59,159.96 853.55,158.36 856.5,156.77 859.45,155.18 862.41,153.6 865.36,152.02 868.31,150.45 871.27,148.89 874.22,147.33 877.17,145.77 880.13,144.22 883.08,142.67 886.04,141.13 888.99,139.6 891.94,138.06 894.9,136.54 897.85,135.02 900.8,133.5 903.76,131.99 906.71,130.48 909.66,128.98 912.62,127.48 915.57,125.98 918.52,124.49 921.48,123.01 924.43,121.53 927.38,120.05 930.34,118.58 933.29,117.11 936.24,115.65 939.2,114.19 942.15,112.73 945.11,111.28 948.06,109.84 951.01,108.39 953.97,106.95 956.92,105.52 959.87,104.09 962.83,102.66 965.78,101.24 968.73,99.82 971.69,98.4 974.64,96.99 977.59,95.59 980.55,94.18 983.5,92.78 986.45,91.38 989.41,89.99 992.36,88.6 995.31,87.22 998.27,85.83 1001.22,84.46 1004.18,83.08 1007.13,81.71 1010.08,80.34 1013.04,78.98 1015.99,77.61 1018.94,76.26 1021.9,74.9 1024.85,73.55 1027.8,72.2 1030.76,70.86 1033.71,69.52 1036.66,68.18 1039.62,66.84 1042.57,65.51 1045.52,64.18 1048.48,62.86 1051.43,61.54 1054.38,60.22 1057.34,58.9 1060.29,57.59 1063.25,56.28 1066.2,54.97 1069.15,53.67 1072.11,52.37 1075.06,51.07 1078.01,49.77 1080.97,48.48 1083.92,47.19 1086.87,45.91 1089.83,44.62 1092.78,43.34 1095.73,42.06 1098.69,40.79 1101.64,39.52 1104.59,38.25 1107.55,36.98 1110.5,35.72 1113.45,34.45 1116.41,33.2 1118.2,493.9 641.95,493.9"/>
<polygon fill="#21f2f2" points="643.85,300.36 646.8,298.21 649.75,296.08 652.71,293.96 655.66,291.86 658.62,289.77 661.57,287.69 664.52,285.62 667.48,283.57 670.43,281.53 673.38,279.5 676.34,277.48 679.29,275.48 682.24,273.49 685.2,271.5 688.15,269.53 691.1,267.57 694.06,265.62 697.01,263.69 699.96,261.76 702.92,259.84 705.87,257.93 708.83,256.04 711.78,254.15 714.73,252.27 717.69,250.4 720.64,248.54 723.59,246.69 726.55,244.85 729.5,243.02 732.45,241.2 735.41,239.38 738.36,237.58 741.31,235.78 744.27,233.99 747.22,232.21 750.17,230.44 753.13,228.67 756.08,226.92 759.03,225.17 761.99,223.42 764.94,221.69 767.89,219.96 770.85,218.25 773.8,216.53 776.76,214.83 779.71,213.13 782.66,211.44 785.62,209.76 788.57,208.08 791.52,206.41 794.48,204.75 797.43,203.09 800.38,201.44 803.34,199.8 806.29,198.16 809.24,196.53 812.2,194.91 815.15,193.29 818.1,191.68 821.06,190.07 824.01,188.47 826.97,186.88 829.92,185.29 832.87,183.71 835.83,182.13 838.78,180.56 841.73,178.99 844.69,177.43 847.64,175.88 850.59,174.33 853.55,172.79 856.5,171.25 859.45,169.71 862.41,168.19 865.36,166.66 868.31,165.15 871.27,163.63 874.22,162.12 877.17,160.62 880.13,159.12 883.08,157.63 886.04,156.14 888.99,154.66 891.94,153.18 894.9,151.7 897.85,150.23 900.8,148.77 903.76,147.31 906.71,145.85 909.66,144.4 912.62,142.95 915.57,141.51 918.52,140.07 921.48,138.64 924.43,137.21 927.38,135.78 930.34,134.36 933.29,132.94 936.24,131.53 939.2,130.12 942.15,128.72 945.11,127.31 948.06,125.92 951.01,124.52 953.97,123.13 956.92,121.75 959.87,120.37 962.83,118.99 965.78,117.62 968.73,116.24 971.69,114.88 974.64,113.52 977.59,112.16 980.55,110.8 983.5,109.45 986.45,108.1 989.41,106.75 992.36,105.41 995.31,104.07 998.27,102.74 1001.22,101.41 1004.18,100.08 1007.13,98.76 1010.08,97.44 1013.04,96.12 1015.99,94.8 1018.94,93.49 1021.9,92.18 1024.85,90.88 1027.8,89.58 1030.76,88.28 1033.71,86.99 1036.66,85.69 1039.62,84.4 1042.57,83.12 1045.52,81.84 1048.48,80.56 1051.43,79.28 1054.38,78.01 1057.34,76.74 1060.29,75.47 1063.25,74.2 1066.2,72.94 1069.15,71.68 1072.11,70.43 1075.06,69.17 1078.01,67.92 1080.97,66.68 1083.92,65.43 1086.87,64.19 1089.83,62.95 1092.78,61.71 1095.73,60.48 1098.69,59.25 1101.64,58.02 1104.59,56.8 1107.55,55.57 1110.5,54.35 1113.45,53.14 1116.41,51.92 1118.2,493.9 641.95,493.9"/>
<polygon fill="#ffbeff" points="643.85,403.15 646.8,401.68 649.75,400.22 652.71,398.77 655.66,397.33 658.62,395.9 661.57,394.48 664.52,393.07 667.48,391.66 670.43,390.27 673.38,388.88 676.34,387.5 679.29,386.13 682.24,384.76 685.2,383.41 688.15,382.06 691.1,380.72 694.06,379.39 697.01,378.06 699.96,376.74 702.92,375.43 705.87,374.13 708.83,372.83 711.78,371.54 714.73,370.25 717.69,368.97 720.64,367.7 723.59,366.44 726.55,365.18 729.5,363.93 732.45,362.68 735.41,361.44 738.36,360.2 741.31,358.98 744.27,357.75 747.22,356.53 750.17,355.32 753.13,354.12 756.08,352.91 759.03,351.72 761.99,350.53 764.94,349.34 767.89,348.16 770.85,346.99 773.8,345.82 776.76,344.65 779.71,343.49 782.66,342.34 785.62,341.19 788.57,340.04 791.52,338.9 794.48,337.76 797.43,336.63 800.38,335.5 803.34,334.38 806.29,333.26 809.24,332.14 812.2,331.03 815.15,329.93 818.1,328.83 821.06,327.73 824.01,326.64 826.97,325.55 829.92,324.46 832.87,323.38 835.83,322.3 838.78,321.23 841.73,320.16 844.69,319.09 847.64,318.03 850.59,316.97 853.55,315.91 856.5,314.86 859.45,313.82 862.41,312.77 865.36,311.73 868.31,310.69 871.27,309.66 874.22,308.63 877.17,307.6 880.13,306.58 883.08,305.56 886.04,304.54 888.99,303.53 891.94,302.52 894.9,301.51 897.85,300.51 900.8,299.5 903.76,298.51 906.71,297.51 909.66,296.52 912.62,295.53 915.57,294.55 918.52,293.56 921.48,292.58 924.43,291.61 927.38,290.63 930.34,289.66 933.29,288.69 936.24,287.73 939.2,286.77 942.15,285.81 945.11,284.85 948.06,283.89 951.01,282.94 953.97,281.99 956.92,281.05 959.87,280.1 962.83,279.16 965.78,278.22 968.73,277.29 971.69,276.35 974.64,275.42 977.59,274.49 980.55,273.57 983.5,272.65 986.45,271.72 989.41,270.81 992.36,269.89 995.31,268.98 998.27,268.06 1001.22,267.16 1004.18,266.25 1007.13,265.34 1010.08,264.44 1013.04,263.54 1015.99,262.65 1018.94,261.75 1021.9,260.86 1024.85,259.97 1027.8,259.08 1030.76,258.19 1033.71,257.31 1036.66,256.42 1039.62,255.54 1042.57,254.67 1045.52,253.79 1048.48,252.92 1051.43,252.05 1054.38,251.18 1057.34,250.31 1060.29,249.44 1063.25,248.58 1066.2,247.72 1069.15,246.86 1072.11,246 1075.06,245.15 1078.01,244.29 1080.97,243.44 1083.92,242.59 1086.87,241.74 1089.83,240.9 1092.78,240.05 1095.73,239.21 1098.69,238.37 1101.64,237.53 1104.59,236.7 1107.55,235.86 1110.5,235.03 1113.45,234.2 1116.41,233.37 1118.2,493.9 641.95,493.9"/>
<polygon fill="#c030c4" points="643.85,474.94 646.8,473.96 649.75,472.97 652.71,472 655.66,471.03 658.62,470.07 661.57,469.11 664.52,468.16 667.48,467.22 670.43,466.28 673.38,465.34 676.34,464.42 679.29,463.49 682.24,462.58 685.2,461.66 688.15,460.76 691.1,459.86 694.06,458.96 697.01,458.07 699.96,457.18 702.92,456.3 705.87,455.42 708.83,454.55 711.78,453.68 714.73,452.81 717.69,451.95 720.64,451.1 723.59,450.25 726.55,449.4 729.5,448.56 732.45,447.72 735.41,446.88 738.36,446.05 741.31,445.22 744.27,444.4 747.22,443.58 750.17,442.76 753.13,441.95 756.08,441.14 759.03,440.34 761.99,439.54 764.94,438.74 767.89,437.95 770.85,437.15 773.8,436.37 776.76,435.58 779.71,434.8 782.66,434.02 785.62,433.25 788.57,432.48 791.52,431.71 794.48,430.94 797.43,430.18 800.38,429.42 803.34,428.67 806.29,427.91 809.24,427.16 812.2,426.41 815.15,425.67 818.1,424.93 821.06,424.19 824.01,423.45 826.97,422.72 829.92,421.99 832.87,421.26 835.83,420.53 838.78,419.81 841.73,419.09 844.69,418.37 847.64,417.66 850.59,416.94 853.55,416.23 856.5,415.52 859.45,414.82 862.41,414.11 865.36,413.41 868.31,412.71 871.27,412.02 874.22,411.32 877.17,410.63 880.13,409.94 883.08,409.26 886.04,408.57 888.99,407.89 891.94,407.21 894.9,406.53 897.85,405.85 900.8,405.18 903.76,404.51 906.71,403.84 909.66,403.17 912.62,402.5 915.57,401.84 918.52,401.17 921.48,400.51 924.43,399.86 927.38,399.2 930.34,398.55 933.29,397.89 936.24,397.24 939.2,396.59 942.15,395.95 945.11,395.3 948.06,394.66 951.01,394.02 953.97,393.38 956.92,392.74 959.87,392.1 962.83,391.47 965.78,390.84 968.73,390.21 971.69,389.58 974.64,388.95 977.59,388.32 980.55,387.7 983.5,387.08 986.45,386.46 989.41,385.84 992.36,385.22 995.31,384.6 998.27,383.99 1001.22,383.38 1004.18,382.77 1007.13,382.16 1010.08,381.55 1013.04,380.94 1015.99,380.34 1018.94,379.73 1021.9,379.13 1024.85,378.53 1027.8,377.93 1030.76,377.33 1033.71,376.74 1036.66,376.14 1039.62,375.55 1042.57,374.96 1045.52,374.37 1048.48,373.78 1051.43,373.19 1054.38,372.6 1057.34,372.02 1060.29,371.44 1063.25,370.85 1066.2,370.27 1069.15,369.69 1072.11,369.12 1075.06,368.54 1078.01,367.96 1080.97,367.39 1083.92,366.82 1086.87,366.24 1089.83,365.67 1092.78,365.1 1095.73,364.54 1098.69,363.97 1101.64,363.4 1104.59,362.84 1107.55,362.28 1110.5,361.72 1113.45,361.15 1116.41,360.6 1118.2,493.9 641.95,493.9"/>
<g fill="none" stroke="#000" stroke-width="1"><polyline points="643.85,233.34 646.8,230.74 649.75,228.16 652.71,225.6 655.66,223.05 658.62,220.53 661.57,218.01 664.52,215.51 667.48,213.03 670.43,210.56 673.38,208.11 676.34,205.67 679.29,203.25 682.24,200.84 685.2,198.44 688.15,196.06 691.1,193.69 694.06,191.34 697.01,188.99 699.96,186.66 702.92,184.34 705.87,182.04 708.83,179.74 711.78,177.46 714.73,175.19 717.69,172.93 720.64,170.69 723.59,168.45 726.55,166.22 729.5,164.01 732.45,161.81 735.41,159.61 738.36,157.43 741.31,155.26 744.27,153.1 747.22,150.94 750.17,148.8 753.13,146.67 756.08,144.54 759.03,142.43 761.99,140.33 764.94,138.23 767.89,136.14 770.85,134.07 773.8,132 776.76,129.94 779.71,127.89 782.66,125.84 785.62,123.81 788.57,121.78 791.52,119.77 794.48,117.76 797.43,115.76 800.38,113.76 803.34,111.78 806.29,109.8 809.24,107.83 812.2,105.86 815.15,103.91 818.1,101.96 821.06,100.02 824.01,98.09 826.97,96.16 829.92,94.24 832.87,92.33 835.83,90.42 838.78,88.53 841.73,86.63 844.69,84.75 847.64,82.87 850.59,81 853.55,79.13 856.5,77.27 859.45,75.42 862.41,73.57 865.36,71.73 868.31,69.9 871.27,68.07 874.22,66.25 877.17,64.44 880.13,62.63 883.08,60.82 886.04,59.02 888.99,57.23 891.94,55.44 894.9,53.66 897.85,51.89 900.8,50.12 903.76,48.35 906.71,46.59 909.66,44.84 912.62,43.09 915.57,41.35 918.52,39.61 921.48,37.88 924.43,36.15 927.38,34.43 930.34,32.71 933.29,31 936.24,29.29 939.2,28.5 942.15,28.5 945.11,28.5 948.06,28.5 951.01,28.5 953.97,28.5 956.92,28.5 959.87,28.5 962.83,28.5 965.78,28.5 968.73,28.5 971.69,28.5 974.64,28.5 977.59,28.5 980.55,28.5 983.5,28.5 986.45,28.5 989.41,28.5 992.36,28.5 995.31,28.5 998.27,28.5 1001.22,28.5 1004.18,28.5 1007.13,28.5 1010.08,28.5 1013.04,28.5 1015.99,28.5 1018.94,28.5 1021.9,28.5 1024.85,28.5 1027.8,28.5 1030.76,28.5 1033.71,28.5 1036.66,28.5 1039.62,28.5 1042.57,28.5 1045.52,28.5 1048.48,28.5 1051.43,28.5 1054.38,28.5 1057.34,28.5 1060.29,28.5 1063.25,28.5 1066.2,28.5 1069.15,28.5 1072.11,28.5 1075.06,28.5 1078.01,28.5 1080.97,28.5 1083.92,28.5 1086.87,28.5 1089.83,28.5 1092.78,28.5 1095.73,28.5 1098.69,28.5 1101.64,28.5 1104.59,28.5 1107.55,28.5 1110.5,28.5 1113.45,28.5 1116.41,28.5"/><polyline points="643.85,242.72 646.8,240.17 649.75,237.64 652.71,235.13 655.66,232.64 658.62,230.16 661.57,227.69 664.52,225.24 667.48,222.81 670.43,220.39 673.38,217.98 676.34,215.59 679.29,213.21 682.24,210.85 685.2,208.5 688.15,206.16 691.1,203.84 694.06,201.53 697.01,199.23 699.96,196.94 702.92,194.67 705.87,192.41 708.83,190.16 711.78,187.92 714.73,185.69 717.69,183.48 720.64,181.27 723.59,179.08 726.55,176.9 729.5,174.72 732.45,172.56 735.41,170.41 738.36,168.27 741.31,166.14 744.27,164.01 747.22,161.9 750.17,159.8 753.13,157.71 756.08,155.62 759.03,153.55 761.99,151.48 764.94,149.43 767.89,147.38 770.85,145.34 773.8,143.31 776.76,141.29 779.71,139.28 782.66,137.27 785.62,135.27 788.57,133.29 791.52,131.31 794.48,129.33 797.43,127.37 800.38,125.41 803.34,123.46 806.29,121.52 809.24,119.59 812.2,117.66 815.15,115.74 818.1,113.83 821.06,111.92 824.01,110.02 826.97,108.13 829.92,106.25 832.87,104.37 835.83,102.5 838.78,100.64 841.73,98.78 844.69,96.93 847.64,95.08 850.59,93.25 853.55,91.41 856.5,89.59 859.45,87.77 862.41,85.96 865.36,84.15 868.31,82.35 871.27,80.55 874.22,78.77 877.17,76.98 880.13,75.2 883.08,73.43 886.04,71.67 888.99,69.91 891.94,68.15 894.9,66.4 897.85,64.66 900.8,62.92 903.76,61.19 906.71,59.46 909.66,57.74 912.62,56.02 915.57,54.31 918.52,52.6 921.48,50.9 924.43,49.2 927.38,47.51 930.34,45.82 933.29,44.14 936.24,42.47 939.2,40.79 942.15,39.13 945.11,37.46 948.06,35.8 951.01,34.15 953.97,32.5 956.92,30.86 959.87,29.22 962.83,28.5 965.78,28.5 968.73,28.5 971.69,28.5 974.64,28.5 977.59,28.5 980.55,28.5 983.5,28.5 986.45,28.5 989.41,28.5 992.36,28.5 995.31,28.5 998.27,28.5 1001.22,28.5 1004.18,28.5 1007.13,28.5 1010.08,28.5 1013.04,28.5 1015.99,28.5 1018.94,28.5 1021.9,28.5 1024.85,28.5 1027.8,28.5 1030.76,28.5 1033.71,28.5 1036.66,28.5 1039.62,28.5 1042.57,28.5 1045.52,28.5 1048.48,28.5 1051.43,28.5 1054.38,28.5 1057.34,28.5 1060.29,28.5 1063.25,28.5 1066.2,28.5 1069.15,28.5 1072.11,28.5 1075.06,28.5 1078.01,28.5 1080.97,28.5 1083.92,28.5 1086.87,28.5 1089.83,28.5 1092.78,28.5 1095.73,28.5 1098.69,28.5 1101.64,28.5 1104.59,28.5 1107.55,28.5 1110.5,28.5 1113.45,28.5 1116.41,28.5"/><polyline points="643.85,251.79 646.8,249.31 649.75,246.84 652.71,244.39 655.66,241.95 658.62,239.53 661.57,237.13 664.52,234.74 667.48,232.36 670.43,230 673.38,227.65 676.34,225.32 679.29,223 682.24,220.69 685.2,218.4 688.15,216.12 691.1,213.85 694.06,211.6 697.01,209.36 699.96,207.12 702.92,204.91 705.87,202.7 708.83,200.5 711.78,198.32 714.73,196.14 717.69,193.98 720.64,191.83 723.59,189.69 726.55,187.56 729.5,185.44 732.45,183.33 735.41,181.23 738.36,179.14 741.31,177.06 744.27,174.99 747.22,172.93 750.17,170.88 753.13,168.83 756.08,166.8 759.03,164.78 761.99,162.76 764.94,160.76 767.89,158.76 770.85,156.77 773.8,154.79 776.76,152.81 779.71,150.85 782.66,148.89 785.62,146.95 788.57,145.01 791.52,143.07 794.48,141.15 797.43,139.23 800.38,137.32 803.34,135.42 806.29,133.52 809.24,131.64 812.2,129.76 815.15,127.88 818.1,126.02 821.06,124.16 824.01,122.31 826.97,120.46 829.92,118.62 832.87,116.79 835.83,114.96 838.78,113.15 841.73,111.33 844.69,109.53 847.64,107.73 850.59,105.93 853.55,104.15 856.5,102.37 859.45,100.59 862.41,98.82 865.36,97.06 868.31,95.3 871.27,93.55 874.22,91.8 877.17,90.06 880.13,88.33 883.08,86.6 886.04,84.88 888.99,83.16 891.94,81.45 894.9,79.74 897.85,78.04 900.8,76.34 903.76,74.65 906.71,72.96 909.66,71.28 912.62,69.61 915.57,67.94 918.52,66.27 921.48,64.61 924.43,62.96 927.38,61.3 930.34,59.66 933.29,58.02 936.24,56.38 939.2,54.75 942.15,53.12 945.11,51.5 948.06,49.88 951.01,48.27 953.97,46.66 956.92,45.05 959.87,43.45 962.83,41.86 965.78,40.27 968.73,38.68 971.69,37.1 974.64,35.52 977.59,33.95 980.55,32.38 983.5,30.81 986.45,29.25 989.41,28.5 992.36,28.5 995.31,28.5 998.27,28.5 1001.22,28.5 1004.18,28.5 1007.13,28.5 1010.08,28.5 1013.04,28.5 1015.99,28.5 1018.94,28.5 1021.9,28.5 1024.85,28.5 1027.8,28.5 1030.76,28.5 1033.71,28.5 1036.66,28.5 1039.62,28.5 1042.57,28.5 1045.52,28.5 1048.48,28.5 1051.43,28.5 1054.38,28.5 1057.34,28.5 1060.29,28.5 1063.25,28.5 1066.2,28.5 1069.15,28.5 1072.11,28.5 1075.06,28.5 1078.01,28.5 1080.97,28.5 1083.92,28.5 1086.87,28.5 1089.83,28.5 1092.78,28.5 1095.73,28.5 1098.69,28.5 1101.64,28.5 1104.59,28.5 1107.55,28.5 1110.5,28.5 1113.45,28.5 1116.41,28.5"/><polyline points="643.85,261.25 646.8,258.82 649.75,256.42 652.71,254.02 655.66,251.65 658.62,249.29 661.57,246.94 664.52,244.61 667.48,242.29 670.43,239.99 673.38,237.69 676.34,235.42 679.29,233.15 682.24,230.9 685.2,228.67 688.15,226.44 691.1,224.23 694.06,222.03 697.01,219.84 699.96,217.66 702.92,215.5 705.87,213.34 708.83,211.2 711.78,209.07 714.73,206.94 717.69,204.83 720.64,202.73 723.59,200.65 726.55,198.57 729.5,196.5 732.45,194.44 735.41,192.39 738.36,190.35 741.31,188.32 744.27,186.3 747.22,184.29 750.17,182.28 753.13,180.29 756.08,178.31 759.03,176.33 761.99,174.36 764.94,172.4 767.89,170.45 770.85,168.51 773.8,166.58 776.76,164.65 779.71,162.74 782.66,160.83 785.62,158.92 788.57,157.03 791.52,155.14 794.48,153.27 797.43,151.39 800.38,149.53 803.34,147.67 806.29,145.82 809.24,143.98 812.2,142.15 815.15,140.32 818.1,138.5 821.06,136.68 824.01,134.87 826.97,133.07 829.92,131.28 832.87,129.49 835.83,127.71 838.78,125.93 841.73,124.16 844.69,122.4 847.64,120.64 850.59,118.89 853.55,117.14 856.5,115.41 859.45,113.67 862.41,111.94 865.36,110.22 868.31,108.51 871.27,106.8 874.22,105.09 877.17,103.39 880.13,101.7 883.08,100.01 886.04,98.33 888.99,96.65 891.94,94.98 894.9,93.32 897.85,91.65 900.8,90 903.76,88.35 906.71,86.7 909.66,85.06 912.62,83.42 915.57,81.79 918.52,80.17 921.48,78.54 924.43,76.93 927.38,75.32 930.34,73.71 933.29,72.11 936.24,70.51 939.2,68.91 942.15,67.33 945.11,65.74 948.06,64.16 951.01,62.59 953.97,61.02 956.92,59.45 959.87,57.89 962.83,56.33 965.78,54.77 968.73,53.23 971.69,51.68 974.64,50.14 977.59,48.6 980.55,47.07 983.5,45.54 986.45,44.01 989.41,42.49 992.36,40.98 995.31,39.46 998.27,37.95 1001.22,36.45 1004.18,34.95 1007.13,33.45 1010.08,31.96 1013.04,30.46 1015.99,28.98 1018.94,28.5 1021.9,28.5 1024.85,28.5 1027.8,28.5 1030.76,28.5 1033.71,28.5 1036.66,28.5 1039.62,28.5 1042.57,28.5 1045.52,28.5 1048.48,28.5 1051.43,28.5 1054.38,28.5 1057.34,28.5 1060.29,28.5 1063.25,28.5 1066.2,28.5 1069.15,28.5 1072.11,28.5 1075.06,28.5 1078.01,28.5 1080.97,28.5 1083.92,28.5 1086.87,28.5 1089.83,28.5 1092.78,28.5 1095.73,28.5 1098.69,28.5 1101.64,28.5 1104.59,28.5 1107.55,28.5 1110.5,28.5 1113.45,28.5 1116.41,28.5"/><polyline points="643.85,270.68 646.8,268.32 649.75,265.98 652.71,263.65 655.66,261.34 658.62,259.04 661.57,256.76 664.52,254.49 667.48,252.24 670.43,249.99 673.38,247.77 676.34,245.55 679.29,243.35 682.24,241.16 685.2,238.98 688.15,236.82 691.1,234.67 694.06,232.53 697.01,230.4 699.96,228.28 702.92,226.17 705.87,224.08 708.83,221.99 711.78,219.92 714.73,217.86 717.69,215.81 720.64,213.76 723.59,211.73 726.55,209.71 729.5,207.7 732.45,205.69 735.41,203.7 738.36,201.72 741.31,199.74 744.27,197.78 747.22,195.82 750.17,193.87 753.13,191.93 756.08,190 759.03,188.08 761.99,186.17 764.94,184.26 767.89,182.37 770.85,180.48 773.8,178.6 776.76,176.73 779.71,174.86 782.66,173 785.62,171.15 788.57,169.31 791.52,167.48 794.48,165.65 797.43,163.83 800.38,162.02 803.34,160.21 806.29,158.41 809.24,156.62 812.2,154.84 815.15,153.06 818.1,151.29 821.06,149.52 824.01,147.76 826.97,146.01 829.92,144.26 832.87,142.53 835.83,140.79 838.78,139.07 841.73,137.34 844.69,135.63 847.64,133.92 850.59,132.22 853.55,130.52 856.5,128.83 859.45,127.15 862.41,125.47 865.36,123.79 868.31,122.12 871.27,120.46 874.22,118.8 877.17,117.15 880.13,115.5 883.08,113.86 886.04,112.23 888.99,110.6 891.94,108.97 894.9,107.35 897.85,105.73 900.8,104.12 903.76,102.52 906.71,100.92 909.66,99.32 912.62,97.73 915.57,96.14 918.52,94.56 921.48,92.99 924.43,91.41 927.38,89.85 930.34,88.28 933.29,86.72 936.24,85.17 939.2,83.62 942.15,82.08 945.11,80.54 948.06,79 951.01,77.47 953.97,75.94 956.92,74.42 959.87,72.9 962.83,71.38 965.78,69.87 968.73,68.36 971.69,66.86 974.64,65.36 977.59,63.87 980.55,62.38 983.5,60.89 986.45,59.41 989.41,57.93 992.36,56.45 995.31,54.98 998.27,53.51 1001.22,52.05 1004.18,50.59 1007.13,49.13 1010.08,47.68 1013.04,46.23 1015.99,44.79 1018.94,43.35 1021.9,41.91 1024.85,40.47 1027.8,39.04 1030.76,37.61 1033.71,36.19 1036.66,34.77 1039.62,33.35 1042.57,31.94 1045.52,30.53 1048.48,29.12 1051.43,28.5 1054.38,28.5 1057.34,28.5 1060.29,28.5 1063.25,28.5 1066.2,28.5 1069.15,28.5 1072.11,28.5 1075.06,28.5 1078.01,28.5 1080.97,28.5 1083.92,28.5 1086.87,28.5 1089.83,28.5 1092.78,28.5 1095.73,28.5 1098.69,28.5 1101.64,28.5 1104.59,28.5 1107.55,28.5 1110.5,28.5 1113.45,28.5 1116.41,28.5"/><polyline points="643.85,280.6 646.8,278.31 649.75,276.04 652.71,273.78 655.66,271.53 658.62,269.3 661.57,267.09 664.52,264.88 667.48,262.69 670.43,260.51 673.38,258.35 676.34,256.2 679.29,254.06 682.24,251.93 685.2,249.82 688.15,247.72 691.1,245.63 694.06,243.55 697.01,241.48 699.96,239.42 702.92,237.38 705.87,235.34 708.83,233.32 711.78,231.3 714.73,229.3 717.69,227.31 720.64,225.32 723.59,223.35 726.55,221.38 729.5,219.43 732.45,217.49 735.41,215.55 738.36,213.62 741.31,211.7 744.27,209.8 747.22,207.9 750.17,206 753.13,204.12 756.08,202.25 759.03,200.38 761.99,198.52 764.94,196.67 767.89,194.83 770.85,192.99 773.8,191.17 776.76,189.35 779.71,187.54 782.66,185.73 785.62,183.94 788.57,182.15 791.52,180.37 794.48,178.59 797.43,176.82 800.38,175.06 803.34,173.31 806.29,171.56 809.24,169.82 812.2,168.09 815.15,166.36 818.1,164.64 821.06,162.93 824.01,161.22 826.97,159.52 829.92,157.82 832.87,156.13 835.83,154.45 838.78,152.77 841.73,151.1 844.69,149.44 847.64,147.78 850.59,146.12 853.55,144.48 856.5,142.83 859.45,141.2 862.41,139.56 865.36,137.94 868.31,136.32 871.27,134.7 874.22,133.09 877.17,131.49 880.13,129.89 883.08,128.3 886.04,126.71 888.99,125.12 891.94,123.54 894.9,121.97 897.85,120.4 900.8,118.84 903.76,117.28 906.71,115.72 909.66,114.17 912.62,112.63 915.57,111.09 918.52,109.55 921.48,108.02 924.43,106.49 927.38,104.97 930.34,103.45 933.29,101.94 936.24,100.43 939.2,98.93 942.15,97.43 945.11,95.93 948.06,94.44 951.01,92.95 953.97,91.47 956.92,89.99 959.87,88.51 962.83,87.04 965.78,85.57 968.73,84.11 971.69,82.65 974.64,81.2 977.59,79.74 980.55,78.3 983.5,76.85 986.45,75.41 989.41,73.98 992.36,72.54 995.31,71.11 998.27,69.69 1001.22,68.27 1004.18,66.85 1007.13,65.44 1010.08,64.02 1013.04,62.62 1015.99,61.21 1018.94,59.81 1021.9,58.42 1024.85,57.02 1027.8,55.63 1030.76,54.25 1033.71,52.86 1036.66,51.48 1039.62,50.11 1042.57,48.74 1045.52,47.37 1048.48,46 1051.43,44.64 1054.38,43.27 1057.34,41.92 1060.29,40.56 1063.25,39.21 1066.2,37.87 1069.15,36.52 1072.11,35.18 1075.06,33.84 1078.01,32.51 1080.97,31.17 1083.92,29.84 1086.87,28.52 1089.83,28.5 1092.78,28.5 1095.73,28.5 1098.69,28.5 1101.64,28.5 1104.59,28.5 1107.55,28.5 1110.5,28.5 1113.45,28.5 1116.41,28.5"/><polyline points="643.85,290.39 646.8,288.17 649.75,285.97 652.71,283.77 655.66,281.6 658.62,279.43 661.57,277.28 664.52,275.14 667.48,273.02 670.43,270.91 673.38,268.81 676.34,266.72 679.29,264.65 682.24,262.59 685.2,260.54 688.15,258.5 691.1,256.47 694.06,254.45 697.01,252.45 699.96,250.45 702.92,248.47 705.87,246.49 708.83,244.53 711.78,242.58 714.73,240.63 717.69,238.7 720.64,236.78 723.59,234.86 726.55,232.96 729.5,231.06 732.45,229.17 735.41,227.3 738.36,225.43 741.31,223.57 744.27,221.72 747.22,219.87 750.17,218.04 753.13,216.21 756.08,214.39 759.03,212.58 761.99,210.78 764.94,208.99 767.89,207.2 770.85,205.42 773.8,203.65 776.76,201.89 779.71,200.13 782.66,198.38 785.62,196.64 788.57,194.9 791.52,193.17 794.48,191.45 797.43,189.74 800.38,188.03 803.34,186.33 806.29,184.64 809.24,182.95 812.2,181.27 815.15,179.59 818.1,177.92 821.06,176.26 824.01,174.6 826.97,172.95 829.92,171.31 832.87,169.67 835.83,168.04 838.78,166.41 841.73,164.79 844.69,163.18 847.64,161.57 850.59,159.96 853.55,158.36 856.5,156.77 859.45,155.18 862.41,153.6 865.36,152.02 868.31,150.45 871.27,148.89 874.22,147.33 877.17,145.77 880.13,144.22 883.08,142.67 886.04,141.13 888.99,139.6 891.94,138.06 894.9,136.54 897.85,135.02 900.8,133.5 903.76,131.99 906.71,130.48 909.66,128.98 912.62,127.48 915.57,125.98 918.52,124.49 921.48,123.01 924.43,121.53 927.38,120.05 930.34,118.58 933.29,117.11 936.24,115.65 939.2,114.19 942.15,112.73 945.11,111.28 948.06,109.84 951.01,108.39 953.97,106.95 956.92,105.52 959.87,104.09 962.83,102.66 965.78,101.24 968.73,99.82 971.69,98.4 974.64,96.99 977.59,95.59 980.55,94.18 983.5,92.78 986.45,91.38 989.41,89.99 992.36,88.6 995.31,87.22 998.27,85.83 1001.22,84.46 1004.18,83.08 1007.13,81.71 1010.08,80.34 1013.04,78.98 1015.99,77.61 1018.94,76.26 1021.9,74.9 1024.85,73.55 1027.8,72.2 1030.76,70.86 1033.71,69.52 1036.66,68.18 1039.62,66.84 1042.57,65.51 1045.52,64.18 1048.48,62.86 1051.43,61.54 1054.38,60.22 1057.34,58.9 1060.29,57.59 1063.25,56.28 1066.2,54.97 1069.15,53.67 1072.11,52.37 1075.06,51.07 1078.01,49.77 1080.97,48.48 1083.92,47.19 1086.87,45.91 1089.83,44.62 1092.78,43.34 1095.73,42.06 1098.69,40.79 1101.64,39.52 1104.59,38.25 1107.55,36.98 1110.5,35.72 1113.45,34.45 1116.41,33.2"/><polyline points="643.85,300.36 646.8,298.21 649.75,296.08 652.71,293.96 655.66,291.86 658.62,289.77 661.57,287.69 664.52,285.62 667.48,283.57 670.43,281.53 673.38,279.5 676.34,277.48 679.29,275.48 682.24,273.49 685.2,271.5 688.15,269.53 691.1,267.57 694.06,265.62 697.01,263.69 699.96,261.76 702.92,259.84 705.87,257.93 708.83,256.04 711.78,254.15 714.73,252.27 717.69,250.4 720.64,248.54 723.59,246.69 726.55,244.85 729.5,243.02 732.45,241.2 735.41,239.38 738.36,237.58 741.31,235.78 744.27,233.99 747.22,232.21 750.17,230.44 753.13,228.67 756.08,226.92 759.03,225.17 761.99,223.42 764.94,221.69 767.89,219.96 770.85,218.25 773.8,216.53 776.76,214.83 779.71,213.13 782.66,211.44 785.62,209.76 788.57,208.08 791.52,206.41 794.48,204.75 797.43,203.09 800.38,201.44 803.34,199.8 806.29,198.16 809.24,196.53 812.2,194.91 815.15,193.29 818.1,191.68 821.06,190.07 824.01,188.47 826.97,186.88 829.92,185.29 832.87,183.71 835.83,182.13 838.78,180.56 841.73,178.99 844.69,177.43 847.64,175.88 850.59,174.33 853.55,172.79 856.5,171.25 859.45,169.71 862.41,168.19 865.36,166.66 868.31,165.15 871.27,163.63 874.22,162.12 877.17,160.62 880.13,159.12 883.08,157.63 886.04,156.14 888.99,154.66 891.94,153.18 894.9,151.7 897.85,150.23 900.8,148.77 903.76,147.31 906.71,145.85 909.66,144.4 912.62,142.95 915.57,141.51 918.52,140.07 921.48,138.64 924.43,137.21 927.38,135.78 930.34,134.36 933.29,132.94 936.24,131.53 939.2,130.12 942.15,128.72 945.11,127.31 948.06,125.92 951.01,124.52 953.97,123.13 956.92,121.75 959.87,120.37 962.83,118.99 965.78,117.62 968.73,116.24 971.69,114.88 974.64,113.52 977.59,112.16 980.55,110.8 983.5,109.45 986.45,108.1 989.41,106.75 992.36,105.41 995.31,104.07 998.27,102.74 1001.22,101.41 1004.18,100.08 1007.13,98.76 1010.08,97.44 1013.04,96.12 1015.99,94.8 1018.94,93.49 1021.9,92.18 1024.85,90.88 1027.8,89.58 1030.76,88.28 1033.71,86.99 1036.66,85.69 1039.62,84.4 1042.57,83.12 1045.52,81.84 1048.48,80.56 1051.43,79.28 1054.38,78.01 1057.34,76.74 1060.29,75.47 1063.25,74.2 1066.2,72.94 1069.15,71.68 1072.11,70.43 1075.06,69.17 1078.01,67.92 1080.97,66.68 1083.92,65.43 1086.87,64.19 1089.83,62.95 1092.78,61.71 1095.73,60.48 1098.69,59.25 1101.64,58.02 1104.59,56.8 1107.55,55.57 1110.5,54.35 1113.45,53.14 1116.41,51.92"/><polyline points="643.85,403.15 646.8,401.68 649.75,400.22 652.71,398.77 655.66,397.33 658.62,395.9 661.57,394.48 664.52,393.07 667.48,391.66 670.43,390.27 673.38,388.88 676.34,387.5 679.29,386.13 682.24,384.76 685.2,383.41 688.15,382.06 691.1,380.72 694.06,379.39 697.01,378.06 699.96,376.74 702.92,375.43 705.87,374.13 708.83,372.83 711.78,371.54 714.73,370.25 717.69,368.97 720.64,367.7 723.59,366.44 726.55,365.18 729.5,363.93 732.45,362.68 735.41,361.44 738.36,360.2 741.31,358.98 744.27,357.75 747.22,356.53 750.17,355.32 753.13,354.12 756.08,352.91 759.03,351.72 761.99,350.53 764.94,349.34 767.89,348.16 770.85,346.99 773.8,345.82 776.76,344.65 779.71,343.49 782.66,342.34 785.62,341.19 788.57,340.04 791.52,338.9 794.48,337.76 797.43,336.63 800.38,335.5 803.34,334.38 806.29,333.26 809.24,332.14 812.2,331.03 815.15,329.93 818.1,328.83 821.06,327.73 824.01,326.64 826.97,325.55 829.92,324.46 832.87,323.38 835.83,322.3 838.78,321.23 841.73,320.16 844.69,319.09 847.64,318.03 850.59,316.97 853.55,315.91 856.5,314.86 859.45,313.82 862.41,312.77 865.36,311.73 868.31,310.69 871.27,309.66 874.22,308.63 877.17,307.6 880.13,306.58 883.08,305.56 886.04,304.54 888.99,303.53 891.94,302.52 894.9,301.51 897.85,300.51 900.8,299.5 903.76,298.51 906.71,297.51 909.66,296.52 912.62,295.53 915.57,294.55 918.52,293.56 921.48,292.58 924.43,291.61 927.38,290.63 930.34,289.66 933.29,288.69 936.24,287.73 939.2,286.77 942.15,285.81 945.11,284.85 948.06,283.89 951.01,282.94 953.97,281.99 956.92,281.05 959.87,280.1 962.83,279.16 965.78,278.22 968.73,277.29 971.69,276.35 974.64,275.42 977.59,274.49 980.55,273.57 983.5,272.65 986.45,271.72 989.41,270.81 992.36,269.89 995.31,268.98 998.27,268.06 1001.22,267.16 1004.18,266.25 1007.13,265.34 1010.08,264.44 1013.04,263.54 1015.99,262.65 1018.94,261.75 1021.9,260.86 1024.85,259.97 1027.8,259.08 1030.76,258.19 1033.71,257.31 1036.66,256.42 1039.62,255.54 1042.57,254.67 1045.52,253.79 1048.48,252.92 1051.43,252.05 1054.38,251.18 1057.34,250.31 1060.29,249.44 1063.25,248.58 1066.2,247.72 1069.15,246.86 1072.11,246 1075.06,245.15 1078.01,244.29 1080.97,243.44 1083.92,242.59 1086.87,241.74 1089.83,240.9 1092.78,240.05 1095.73,239.21 1098.69,238.37 1101.64,237.53 1104.59,236.7 1107.55,235.86 1110.5,235.03 1113.45,234.2 1116.41,233.37"/><polyline points="643.85,474.94 646.8,473.96 649.75,472.97 652.71,472 655.66,471.03 658.62,470.07 661.57,469.11 664.52,468.16 667.48,467.22 670.43,466.28 673.38,465.34 676.34,464.42 679.29,463.49 682.24,462.58 685.2,461.66 688.15,460.76 691.1,459.86 694.06,458.96 697.01,458.07 699.96,457.18 702.92,456.3 705.87,455.42 708.83,454.55 711.78,453.68 714.73,452.81 717.69,451.95 720.64,451.1 723.59,450.25 726.55,449.4 729.5,448.56 732.45,447.72 735.41,446.88 738.36,446.05 741.31,445.22 744.27,444.4 747.22,443.58 750.17,442.76 753.13,441.95 756.08,441.14 759.03,440.34 761.99,439.54 764.94,438.74 767.89,437.95 770.85,437.15 773.8,436.37 776.76,435.58 779.71,434.8 782.66,434.02 785.62,433.25 788.57,432.48 791.52,431.71 794.48,430.94 797.43,430.18 800.38,429.42 803.34,428.67 806.29,427.91 809.24,427.16 812.2,426.41 815.15,425.67 818.1,424.93 821.06,424.19 824.01,423.45 826.97,422.72 829.92,421.99 832.87,421.26 835.83,420.53 838.78,419.81 841.73,419.09 844.69,418.37 847.64,417.66 850.59,416.94 853.55,416.23 856.5,415.52 859.45,414.82 862.41,414.11 865.36,413.41 868.31,412.71 871.27,412.02 874.22,411.32 877.17,410.63 880.13,409.94 883.08,409.26 886.04,408.57 888.99,407.89 891.94,407.21 894.9,406.53 897.85,405.85 900.8,405.18 903.76,404.51 906.71,403.84 909.66,403.17 912.62,402.5 915.57,401.84 918.52,401.17 921.48,400.51 924.43,399.86 927.38,399.2 930.34,398.55 933.29,397.89 936.24,397.24 939.2,396.59 942.15,395.95 945.11,395.3 948.06,394.66 951.01,394.02 953.97,393.38 956.92,392.74 959.87,392.1 962.83,391.47 965.78,390.84 968.73,390.21 971.69,389.58 974.64,388.95 977.59,388.32 980.55,387.7 983.5,387.08 986.45,386.46 989.41,385.84 992.36,385.22 995.31,384.6 998.27,383.99 1001.22,383.38 1004.18,382.77 1007.13,382.16 1010.08,381.55 1013.04,380.94 1015.99,380.34 1018.94,379.73 1021.9,379.13 1024.85,378.53 1027.8,377.93 1030.76,377.33 1033.71,376.74 1036.66,376.14 1039.62,375.55 1042.57,374.96 1045.52,374.37 1048.48,373.78 1051.43,373.19 1054.38,372.6 1057.34,372.02 1060.29,371.44 1063.25,370.85 1066.2,370.27 1069.15,369.69 1072.11,369.12 1075.06,368.54 1078.01,367.96 1080.97,367.39 1083.92,366.82 1086.87,366.24 1089.83,365.67 1092.78,365.1 1095.73,364.54 1098.69,363.97 1101.64,363.4 1104.59,362.84 1107.55,362.28 1110.5,361.72 1113.45,361.15 1116.41,360.6"/></g>
<line x1="766.71" y1="35" x2="766.71" y2="487.5" stroke="#000" stroke-width="2.1" stroke-dasharray="3.2 4.27" stroke-dashoffset="3.57"/>
<line x1="844.92" y1="35" x2="844.92" y2="487.5" stroke="#000" stroke-width="2.1" stroke-dasharray="3.2 4.27" stroke-dashoffset="3.57"/>
<line x1="925.41" y1="35" x2="925.41" y2="487.5" stroke="#000" stroke-width="2.1" stroke-dasharray="3.2 4.27" stroke-dashoffset="3.57"/>
</g>
<rect x="643.95" y="33.5" width="472.25" height="455.4" fill="none" stroke="#000" stroke-width="3.2"/>
<path d="M659.6 488.9V497.6M738.36 488.9V497.6M817.12 488.9V497.6M895.88 488.9V497.6M974.64 488.9V497.6M1053.4 488.9V497.6M698.98 488.9V493.3M777.74 488.9V493.3M856.5 488.9V493.3M935.26 488.9V493.3M1014.02 488.9V493.3M1092.78 488.9V493.3M643.95 454.9H634.65M643.95 370.6H634.65M643.95 286.3H634.65M643.95 202H634.65M643.95 117.7H634.65M643.95 33.4H634.65M643.95 412.75H638.95M643.95 328.45H638.95M643.95 244.15H638.95M643.95 159.85H638.95M643.95 75.55H638.95" stroke="#000" stroke-width="3.4" fill="none"/>
<text class="tk" x="659.6" y="523.6" text-anchor="middle">3</text>
<text class="tk" x="738.36" y="523.6" text-anchor="middle">4</text>
<text class="tk" x="817.12" y="523.6" text-anchor="middle">5</text>
<text class="tk" x="895.88" y="523.6" text-anchor="middle">6</text>
<text class="tk" x="974.64" y="523.6" text-anchor="middle">7</text>
<text class="tk" x="1053.4" y="523.6" text-anchor="middle">8</text>
<text class="tk" x="628.7" y="461.6" text-anchor="end">2</text>
<text class="tk" x="628.7" y="377.3" text-anchor="end">3</text>
<text class="tk" x="628.7" y="293" text-anchor="end">4</text>
<text class="tk" x="628.7" y="208.7" text-anchor="end">5</text>
<text class="tk" x="628.7" y="124.4" text-anchor="end">6</text>
<text class="tk" x="628.7" y="40.1" text-anchor="end">7</text>
<text x="-2.3" y="29.4" font-size="40">(a)</text>
<text x="559.7" y="29.5" font-size="39.7">(b)</text>
<text x="187.1" y="27.3" font-size="30.4">Pd</text>
<text x="263.7" y="27.3" font-size="30.4">Ni</text>
<text x="345.7" y="27.3" font-size="30.4">Pt</text>
<text x="750.7" y="29.4" font-size="30.4">Pd</text>
<text x="827.3" y="29.4" font-size="30.4">Ni</text>
<text x="909.3" y="29.4" font-size="30.4">Pt</text>
<text x="417.5" y="474.3" font-size="30.1">T = 300K</text>
<text x="974.5" y="474" font-size="27.7">T = 1073K</text>
<text x="271.5" y="560.5" font-size="27.2">E</text>
<text x="290.2" y="570.1" font-size="20.8">c</text>
<text x="309.5" y="560.5" font-size="27.3">(eV)</text>
<g transform="translate(29.1,344.5) rotate(-90)"><text x="0" y="0" font-size="28.7">E</text><text x="19.1" y="9.9" font-size="22.3">bind</text><text x="73.7" y="0" font-size="28.7">(eV)</text></g>
<text x="835.1" y="560.5" font-size="27.2">E</text>
<text x="853.8" y="570.1" font-size="20.8">c</text>
<text x="873.1" y="560.5" font-size="27.3">(eV)</text>
<g transform="translate(593,344.5) rotate(-90)"><text x="0" y="0" font-size="28.7">E</text><text x="19.1" y="9.9" font-size="22.3">bind</text><text x="73.7" y="0" font-size="28.7">(eV)</text></g>
<rect x="1127" y="65" width="62.75" height="24.44" fill="#c030c4"/>
<rect x="1127" y="88.44" width="62.75" height="24.44" fill="#ffbeff"/>
<rect x="1127" y="111.88" width="62.75" height="24.44" fill="#21f2f2"/>
<rect x="1127" y="135.32" width="62.75" height="24.44" fill="#42bdbd"/>
<rect x="1127" y="158.76" width="62.75" height="24.44" fill="#ff8000"/>
<rect x="1127" y="182.2" width="62.75" height="24.44" fill="#0000ff"/>
<rect x="1127" y="205.64" width="62.75" height="24.44" fill="#8000ff"/>
<rect x="1127" y="229.08" width="62.75" height="24.44" fill="#ff0000"/>
<rect x="1127" y="252.52" width="62.75" height="24.44" fill="#c70c30"/>
<rect x="1127" y="275.96" width="62.75" height="24.44" fill="#c0c0c0"/>
<rect x="1127" y="299.4" width="62.75" height="23.44" fill="#808080"/>
<text x="1199" y="98.2" font-size="23.8">-16</text>
<text x="1199" y="121.64" font-size="23.8">-12</text>
<text x="1199" y="145.08" font-size="23.8">-4</text>
<text x="1199" y="168.52" font-size="23.8">-3</text>
<text x="1199" y="191.96" font-size="23.8">-2</text>
<text x="1199" y="215.4" font-size="23.8">-1</text>
<text x="1199" y="238.84" font-size="23.8">0</text>
<text x="1199" y="262.28" font-size="23.8">1</text>
<text x="1199" y="285.72" font-size="23.8">2</text>
<text x="1199" y="309.16" font-size="23.8">3</text>
<text x="1237.1" y="97.2" font-size="26">(8.64 ps)</text>
<text x="1237.5" y="122" font-size="26">(86.4 ns)</text>
<text x="1237.5" y="168.3" font-size="26">(86.4 s)</text>
<text x="1237.5" y="211" font-size="26">(2.4 h)</text>
<text x="1238.3" y="236.9" font-size="26">(1 day)</text>
<text x="1120" y="53.9" font-size="30">log</text>
<text x="1164.7" y="53.5" font-size="25.5" font-weight="normal">(</text>
<path d="M1173.8,46.3C1174.4,44.5 1175.3,43.6 1176.7,43.5L1183.3,43.3M1179.3,43.8C1178.6,47 1177.9,50 1178.2,52.3C1178.7,54.6 1181.3,54.4 1182.5,51.8" fill="none" stroke="#000" stroke-width="2.1"/>
<text x="1184.3" y="63.7" font-size="17">diffusion</text>
<text x="1255.4" y="54.5" font-size="30">,</text>
<text x="1271" y="53.9" font-size="30">days</text>
<text x="1340" y="53.5" font-size="25.5" font-weight="normal">)</text>
</svg></body></html>
